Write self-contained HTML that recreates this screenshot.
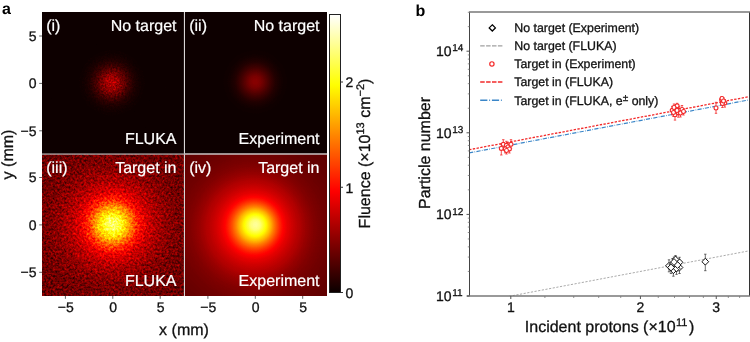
<!DOCTYPE html>
<html><head><meta charset="utf-8"><title>Figure</title>
<style>html,body{margin:0;padding:0;background:#fff;width:750px;height:342px;overflow:hidden;font-family:"Liberation Sans",sans-serif;}svg{display:block;will-change:transform;filter:blur(0.35px);text-rendering:geometricPrecision;}text[fill="#111"]{stroke:#111;stroke-width:0.3px;}text[fill="#fff"]{stroke:#fff;stroke-width:0.2px;}</style>
</head><body>
<svg width="750" height="342" viewBox="0 0 750 342" font-family='"Liberation Sans", sans-serif'><defs><radialGradient id="g_i" gradientUnits="userSpaceOnUse" cx="111.80" cy="82.80" fx="111.80" fy="82.80" r="110.00"><stop offset="0.0000" stop-color="#3f3f3f"/><stop offset="0.0091" stop-color="#3f3f3f"/><stop offset="0.0182" stop-color="#3e3e3e"/><stop offset="0.0273" stop-color="#3d3d3d"/><stop offset="0.0364" stop-color="#3b3b3b"/><stop offset="0.0455" stop-color="#393939"/><stop offset="0.0545" stop-color="#373737"/><stop offset="0.0636" stop-color="#343434"/><stop offset="0.0727" stop-color="#313131"/><stop offset="0.0818" stop-color="#2d2d2d"/><stop offset="0.0909" stop-color="#2a2a2a"/><stop offset="0.1000" stop-color="#272727"/><stop offset="0.1091" stop-color="#232323"/><stop offset="0.1182" stop-color="#202020"/><stop offset="0.1273" stop-color="#1d1d1d"/><stop offset="0.1364" stop-color="#191919"/><stop offset="0.1455" stop-color="#161616"/><stop offset="0.1545" stop-color="#141414"/><stop offset="0.1636" stop-color="#111111"/><stop offset="0.1727" stop-color="#0f0f0f"/><stop offset="0.1818" stop-color="#0d0d0d"/><stop offset="0.1909" stop-color="#0b0b0b"/><stop offset="0.2000" stop-color="#090909"/><stop offset="0.2091" stop-color="#080808"/><stop offset="0.2182" stop-color="#070707"/><stop offset="0.2273" stop-color="#050505"/><stop offset="0.2364" stop-color="#050505"/><stop offset="0.2455" stop-color="#040404"/><stop offset="0.2545" stop-color="#030303"/><stop offset="0.2636" stop-color="#030303"/><stop offset="0.2727" stop-color="#020202"/><stop offset="0.2818" stop-color="#020202"/><stop offset="0.2909" stop-color="#020202"/><stop offset="0.3000" stop-color="#010101"/><stop offset="0.3091" stop-color="#010101"/><stop offset="0.3182" stop-color="#010101"/><stop offset="0.3273" stop-color="#010101"/><stop offset="0.3364" stop-color="#010101"/><stop offset="0.3455" stop-color="#010101"/><stop offset="0.3545" stop-color="#010101"/><stop offset="0.3636" stop-color="#010101"/><stop offset="0.3727" stop-color="#010101"/><stop offset="0.3818" stop-color="#010101"/><stop offset="0.3909" stop-color="#010101"/><stop offset="0.4000" stop-color="#010101"/><stop offset="0.4091" stop-color="#010101"/><stop offset="0.4182" stop-color="#010101"/><stop offset="0.4273" stop-color="#010101"/><stop offset="0.4364" stop-color="#010101"/><stop offset="0.4455" stop-color="#010101"/><stop offset="0.4545" stop-color="#010101"/><stop offset="0.4636" stop-color="#010101"/><stop offset="0.4727" stop-color="#010101"/><stop offset="0.4818" stop-color="#010101"/><stop offset="0.4909" stop-color="#010101"/><stop offset="0.5000" stop-color="#010101"/><stop offset="0.5091" stop-color="#010101"/><stop offset="0.5182" stop-color="#010101"/><stop offset="0.5273" stop-color="#010101"/><stop offset="0.5364" stop-color="#010101"/><stop offset="0.5455" stop-color="#010101"/><stop offset="0.5545" stop-color="#010101"/><stop offset="0.5636" stop-color="#010101"/><stop offset="0.5727" stop-color="#010101"/><stop offset="0.5818" stop-color="#010101"/><stop offset="0.5909" stop-color="#010101"/><stop offset="0.6000" stop-color="#010101"/><stop offset="0.6091" stop-color="#010101"/><stop offset="0.6182" stop-color="#010101"/><stop offset="0.6273" stop-color="#010101"/><stop offset="0.6364" stop-color="#010101"/><stop offset="0.6455" stop-color="#010101"/><stop offset="0.6545" stop-color="#010101"/><stop offset="0.6636" stop-color="#010101"/><stop offset="0.6727" stop-color="#010101"/><stop offset="0.6818" stop-color="#010101"/><stop offset="0.6909" stop-color="#010101"/><stop offset="0.7000" stop-color="#010101"/><stop offset="0.7091" stop-color="#010101"/><stop offset="0.7182" stop-color="#010101"/><stop offset="0.7273" stop-color="#010101"/><stop offset="0.7364" stop-color="#010101"/><stop offset="0.7455" stop-color="#010101"/><stop offset="0.7545" stop-color="#010101"/><stop offset="0.7636" stop-color="#010101"/><stop offset="0.7727" stop-color="#010101"/><stop offset="0.7818" stop-color="#010101"/><stop offset="0.7909" stop-color="#010101"/><stop offset="0.8000" stop-color="#010101"/><stop offset="0.8091" stop-color="#010101"/><stop offset="0.8182" stop-color="#010101"/><stop offset="0.8273" stop-color="#010101"/><stop offset="0.8364" stop-color="#010101"/><stop offset="0.8455" stop-color="#010101"/><stop offset="0.8545" stop-color="#010101"/><stop offset="0.8636" stop-color="#010101"/><stop offset="0.8727" stop-color="#010101"/><stop offset="0.8818" stop-color="#010101"/><stop offset="0.8909" stop-color="#010101"/><stop offset="0.9000" stop-color="#010101"/><stop offset="0.9091" stop-color="#010101"/><stop offset="0.9182" stop-color="#010101"/><stop offset="0.9273" stop-color="#010101"/><stop offset="0.9364" stop-color="#010101"/><stop offset="0.9455" stop-color="#010101"/><stop offset="0.9545" stop-color="#010101"/><stop offset="0.9636" stop-color="#010101"/><stop offset="0.9727" stop-color="#010101"/><stop offset="0.9818" stop-color="#010101"/><stop offset="0.9909" stop-color="#010101"/><stop offset="1.0000" stop-color="#010101"/><stop offset="1.0000" stop-color="#010101"/></radialGradient><filter id="f_i" filterUnits="userSpaceOnUse" x="42.00" y="12.00" width="142.00" height="141.50" color-interpolation-filters="sRGB"><feTurbulence type="fractalNoise" baseFrequency="0.55" numOctaves="2" seed="3" result="t"/><feColorMatrix in="t" type="matrix" values="1 0 0 0 0  1 0 0 0 0  1 0 0 0 0  0 0 0 0 1" result="n"/><feComposite in="SourceGraphic" in2="n" operator="arithmetic" k1="1.500" k2="0.250" k3="0" k4="0"/><feComponentTransfer><feFuncR type="table" tableValues="0.0416 0.0519 0.0622 0.0725 0.0828 0.0931 0.1034 0.1137 0.1240 0.1343 0.1445 0.1548 0.1651 0.1754 0.1857 0.1960 0.2063 0.2166 0.2269 0.2372 0.2475 0.2578 0.2681 0.2784 0.2887 0.2990 0.3093 0.3196 0.3299 0.3402 0.3504 0.3607 0.3710 0.3813 0.3916 0.4019 0.4122 0.4225 0.4328 0.4431 0.4534 0.4637 0.4740 0.4843 0.4946 0.5049 0.5152 0.5255 0.5358 0.5460 0.5563 0.5666 0.5769 0.5872 0.5975 0.6078 0.6181 0.6284 0.6387 0.6490 0.6593 0.6696 0.6799 0.6902 0.7005 0.7108 0.7211 0.7314 0.7416 0.7519 0.7622 0.7725 0.7828 0.7931 0.8034 0.8137 0.8240 0.8343 0.8446 0.8549 0.8652 0.8755 0.8858 0.8961 0.9064 0.9167 0.9270 0.9373 0.9475 0.9578 0.9681 0.9784 0.9887 0.9990 1.0000 1.0000 1.0000 1.0000 1.0000 1.0000 1.0000 1.0000 1.0000 1.0000 1.0000 1.0000 1.0000 1.0000 1.0000 1.0000 1.0000 1.0000 1.0000 1.0000 1.0000 1.0000 1.0000 1.0000 1.0000 1.0000 1.0000 1.0000 1.0000 1.0000 1.0000 1.0000 1.0000 1.0000 1.0000 1.0000 1.0000 1.0000 1.0000 1.0000 1.0000 1.0000 1.0000 1.0000 1.0000 1.0000 1.0000 1.0000 1.0000 1.0000 1.0000 1.0000 1.0000 1.0000 1.0000 1.0000 1.0000 1.0000 1.0000 1.0000 1.0000 1.0000 1.0000 1.0000 1.0000 1.0000 1.0000 1.0000 1.0000 1.0000 1.0000 1.0000 1.0000 1.0000 1.0000 1.0000 1.0000 1.0000 1.0000 1.0000 1.0000 1.0000 1.0000 1.0000 1.0000 1.0000 1.0000 1.0000 1.0000 1.0000 1.0000 1.0000 1.0000 1.0000 1.0000 1.0000 1.0000 1.0000 1.0000 1.0000 1.0000 1.0000 1.0000 1.0000 1.0000 1.0000 1.0000 1.0000 1.0000 1.0000 1.0000 1.0000 1.0000 1.0000 1.0000 1.0000 1.0000 1.0000 1.0000 1.0000 1.0000 1.0000 1.0000 1.0000 1.0000 1.0000 1.0000 1.0000 1.0000 1.0000 1.0000 1.0000 1.0000 1.0000 1.0000 1.0000 1.0000 1.0000 1.0000 1.0000 1.0000 1.0000 1.0000 1.0000 1.0000 1.0000 1.0000 1.0000 1.0000 1.0000 1.0000 1.0000 1.0000 1.0000 1.0000 1.0000 1.0000 1.0000 1.0000 1.0000 1.0000 1.0000"/><feFuncG type="table" tableValues="0.0000 0.0000 0.0000 0.0000 0.0000 0.0000 0.0000 0.0000 0.0000 0.0000 0.0000 0.0000 0.0000 0.0000 0.0000 0.0000 0.0000 0.0000 0.0000 0.0000 0.0000 0.0000 0.0000 0.0000 0.0000 0.0000 0.0000 0.0000 0.0000 0.0000 0.0000 0.0000 0.0000 0.0000 0.0000 0.0000 0.0000 0.0000 0.0000 0.0000 0.0000 0.0000 0.0000 0.0000 0.0000 0.0000 0.0000 0.0000 0.0000 0.0000 0.0000 0.0000 0.0000 0.0000 0.0000 0.0000 0.0000 0.0000 0.0000 0.0000 0.0000 0.0000 0.0000 0.0000 0.0000 0.0000 0.0000 0.0000 0.0000 0.0000 0.0000 0.0000 0.0000 0.0000 0.0000 0.0000 0.0000 0.0000 0.0000 0.0000 0.0000 0.0000 0.0000 0.0000 0.0000 0.0000 0.0000 0.0000 0.0000 0.0000 0.0000 0.0000 0.0000 0.0000 0.0093 0.0196 0.0299 0.0402 0.0505 0.0608 0.0711 0.0814 0.0917 0.1020 0.1123 0.1225 0.1328 0.1431 0.1534 0.1637 0.1740 0.1843 0.1946 0.2049 0.2152 0.2255 0.2358 0.2461 0.2564 0.2667 0.2770 0.2873 0.2975 0.3078 0.3181 0.3284 0.3387 0.3490 0.3593 0.3696 0.3799 0.3902 0.4005 0.4108 0.4211 0.4314 0.4417 0.4520 0.4623 0.4725 0.4828 0.4931 0.5034 0.5137 0.5240 0.5343 0.5446 0.5549 0.5652 0.5755 0.5858 0.5961 0.6064 0.6167 0.6270 0.6373 0.6475 0.6578 0.6681 0.6784 0.6887 0.6990 0.7093 0.7196 0.7299 0.7402 0.7505 0.7608 0.7711 0.7814 0.7917 0.8020 0.8123 0.8225 0.8328 0.8431 0.8534 0.8637 0.8740 0.8843 0.8946 0.9049 0.9152 0.9255 0.9358 0.9461 0.9564 0.9667 0.9770 0.9873 0.9975 1.0000 1.0000 1.0000 1.0000 1.0000 1.0000 1.0000 1.0000 1.0000 1.0000 1.0000 1.0000 1.0000 1.0000 1.0000 1.0000 1.0000 1.0000 1.0000 1.0000 1.0000 1.0000 1.0000 1.0000 1.0000 1.0000 1.0000 1.0000 1.0000 1.0000 1.0000 1.0000 1.0000 1.0000 1.0000 1.0000 1.0000 1.0000 1.0000 1.0000 1.0000 1.0000 1.0000 1.0000 1.0000 1.0000 1.0000 1.0000 1.0000 1.0000 1.0000 1.0000 1.0000 1.0000 1.0000 1.0000 1.0000 1.0000 1.0000 1.0000 1.0000 1.0000 1.0000 1.0000 1.0000"/><feFuncB type="table" tableValues="0.0000 0.0000 0.0000 0.0000 0.0000 0.0000 0.0000 0.0000 0.0000 0.0000 0.0000 0.0000 0.0000 0.0000 0.0000 0.0000 0.0000 0.0000 0.0000 0.0000 0.0000 0.0000 0.0000 0.0000 0.0000 0.0000 0.0000 0.0000 0.0000 0.0000 0.0000 0.0000 0.0000 0.0000 0.0000 0.0000 0.0000 0.0000 0.0000 0.0000 0.0000 0.0000 0.0000 0.0000 0.0000 0.0000 0.0000 0.0000 0.0000 0.0000 0.0000 0.0000 0.0000 0.0000 0.0000 0.0000 0.0000 0.0000 0.0000 0.0000 0.0000 0.0000 0.0000 0.0000 0.0000 0.0000 0.0000 0.0000 0.0000 0.0000 0.0000 0.0000 0.0000 0.0000 0.0000 0.0000 0.0000 0.0000 0.0000 0.0000 0.0000 0.0000 0.0000 0.0000 0.0000 0.0000 0.0000 0.0000 0.0000 0.0000 0.0000 0.0000 0.0000 0.0000 0.0000 0.0000 0.0000 0.0000 0.0000 0.0000 0.0000 0.0000 0.0000 0.0000 0.0000 0.0000 0.0000 0.0000 0.0000 0.0000 0.0000 0.0000 0.0000 0.0000 0.0000 0.0000 0.0000 0.0000 0.0000 0.0000 0.0000 0.0000 0.0000 0.0000 0.0000 0.0000 0.0000 0.0000 0.0000 0.0000 0.0000 0.0000 0.0000 0.0000 0.0000 0.0000 0.0000 0.0000 0.0000 0.0000 0.0000 0.0000 0.0000 0.0000 0.0000 0.0000 0.0000 0.0000 0.0000 0.0000 0.0000 0.0000 0.0000 0.0000 0.0000 0.0000 0.0000 0.0000 0.0000 0.0000 0.0000 0.0000 0.0000 0.0000 0.0000 0.0000 0.0000 0.0000 0.0000 0.0000 0.0000 0.0000 0.0000 0.0000 0.0000 0.0000 0.0000 0.0000 0.0000 0.0000 0.0000 0.0000 0.0000 0.0000 0.0000 0.0000 0.0000 0.0000 0.0000 0.0000 0.0000 0.0118 0.0272 0.0426 0.0581 0.0735 0.0890 0.1044 0.1199 0.1353 0.1507 0.1662 0.1816 0.1971 0.2125 0.2279 0.2434 0.2588 0.2743 0.2897 0.3051 0.3206 0.3360 0.3515 0.3669 0.3824 0.3978 0.4132 0.4287 0.4441 0.4596 0.4750 0.4904 0.5059 0.5213 0.5368 0.5522 0.5676 0.5831 0.5985 0.6140 0.6294 0.6449 0.6603 0.6757 0.6912 0.7066 0.7221 0.7375 0.7529 0.7684 0.7838 0.7993 0.8147 0.8301 0.8456 0.8610 0.8765 0.8919 0.9074 0.9228 0.9382 0.9537 0.9691 0.9846 1.0000"/></feComponentTransfer></filter><radialGradient id="g_ii" gradientUnits="userSpaceOnUse" cx="255.30" cy="81.80" fx="255.30" fy="81.80" r="110.00"><stop offset="0.0000" stop-color="#2f2f2f"/><stop offset="0.0091" stop-color="#2f2f2f"/><stop offset="0.0182" stop-color="#2f2f2f"/><stop offset="0.0273" stop-color="#2e2e2e"/><stop offset="0.0364" stop-color="#2c2c2c"/><stop offset="0.0455" stop-color="#2b2b2b"/><stop offset="0.0545" stop-color="#292929"/><stop offset="0.0636" stop-color="#272727"/><stop offset="0.0727" stop-color="#242424"/><stop offset="0.0818" stop-color="#222222"/><stop offset="0.0909" stop-color="#1f1f1f"/><stop offset="0.1000" stop-color="#1d1d1d"/><stop offset="0.1091" stop-color="#1a1a1a"/><stop offset="0.1182" stop-color="#181818"/><stop offset="0.1273" stop-color="#151515"/><stop offset="0.1364" stop-color="#131313"/><stop offset="0.1455" stop-color="#111111"/><stop offset="0.1545" stop-color="#0f0f0f"/><stop offset="0.1636" stop-color="#0d0d0d"/><stop offset="0.1727" stop-color="#0b0b0b"/><stop offset="0.1818" stop-color="#090909"/><stop offset="0.1909" stop-color="#080808"/><stop offset="0.2000" stop-color="#070707"/><stop offset="0.2091" stop-color="#060606"/><stop offset="0.2182" stop-color="#050505"/><stop offset="0.2273" stop-color="#040404"/><stop offset="0.2364" stop-color="#030303"/><stop offset="0.2455" stop-color="#030303"/><stop offset="0.2545" stop-color="#020202"/><stop offset="0.2636" stop-color="#020202"/><stop offset="0.2727" stop-color="#020202"/><stop offset="0.2818" stop-color="#020202"/><stop offset="0.2909" stop-color="#010101"/><stop offset="0.3000" stop-color="#010101"/><stop offset="0.3091" stop-color="#010101"/><stop offset="0.3182" stop-color="#010101"/><stop offset="0.3273" stop-color="#010101"/><stop offset="0.3364" stop-color="#010101"/><stop offset="0.3455" stop-color="#010101"/><stop offset="0.3545" stop-color="#010101"/><stop offset="0.3636" stop-color="#010101"/><stop offset="0.3727" stop-color="#010101"/><stop offset="0.3818" stop-color="#010101"/><stop offset="0.3909" stop-color="#010101"/><stop offset="0.4000" stop-color="#010101"/><stop offset="0.4091" stop-color="#010101"/><stop offset="0.4182" stop-color="#010101"/><stop offset="0.4273" stop-color="#010101"/><stop offset="0.4364" stop-color="#010101"/><stop offset="0.4455" stop-color="#010101"/><stop offset="0.4545" stop-color="#010101"/><stop offset="0.4636" stop-color="#010101"/><stop offset="0.4727" stop-color="#010101"/><stop offset="0.4818" stop-color="#010101"/><stop offset="0.4909" stop-color="#010101"/><stop offset="0.5000" stop-color="#010101"/><stop offset="0.5091" stop-color="#010101"/><stop offset="0.5182" stop-color="#010101"/><stop offset="0.5273" stop-color="#010101"/><stop offset="0.5364" stop-color="#010101"/><stop offset="0.5455" stop-color="#010101"/><stop offset="0.5545" stop-color="#010101"/><stop offset="0.5636" stop-color="#010101"/><stop offset="0.5727" stop-color="#010101"/><stop offset="0.5818" stop-color="#010101"/><stop offset="0.5909" stop-color="#010101"/><stop offset="0.6000" stop-color="#010101"/><stop offset="0.6091" stop-color="#010101"/><stop offset="0.6182" stop-color="#010101"/><stop offset="0.6273" stop-color="#010101"/><stop offset="0.6364" stop-color="#010101"/><stop offset="0.6455" stop-color="#010101"/><stop offset="0.6545" stop-color="#010101"/><stop offset="0.6636" stop-color="#010101"/><stop offset="0.6727" stop-color="#010101"/><stop offset="0.6818" stop-color="#010101"/><stop offset="0.6909" stop-color="#010101"/><stop offset="0.7000" stop-color="#010101"/><stop offset="0.7091" stop-color="#010101"/><stop offset="0.7182" stop-color="#010101"/><stop offset="0.7273" stop-color="#010101"/><stop offset="0.7364" stop-color="#010101"/><stop offset="0.7455" stop-color="#010101"/><stop offset="0.7545" stop-color="#010101"/><stop offset="0.7636" stop-color="#010101"/><stop offset="0.7727" stop-color="#010101"/><stop offset="0.7818" stop-color="#010101"/><stop offset="0.7909" stop-color="#010101"/><stop offset="0.8000" stop-color="#010101"/><stop offset="0.8091" stop-color="#010101"/><stop offset="0.8182" stop-color="#010101"/><stop offset="0.8273" stop-color="#010101"/><stop offset="0.8364" stop-color="#010101"/><stop offset="0.8455" stop-color="#010101"/><stop offset="0.8545" stop-color="#010101"/><stop offset="0.8636" stop-color="#010101"/><stop offset="0.8727" stop-color="#010101"/><stop offset="0.8818" stop-color="#010101"/><stop offset="0.8909" stop-color="#010101"/><stop offset="0.9000" stop-color="#010101"/><stop offset="0.9091" stop-color="#010101"/><stop offset="0.9182" stop-color="#010101"/><stop offset="0.9273" stop-color="#010101"/><stop offset="0.9364" stop-color="#010101"/><stop offset="0.9455" stop-color="#010101"/><stop offset="0.9545" stop-color="#010101"/><stop offset="0.9636" stop-color="#010101"/><stop offset="0.9727" stop-color="#010101"/><stop offset="0.9818" stop-color="#010101"/><stop offset="0.9909" stop-color="#010101"/><stop offset="1.0000" stop-color="#010101"/><stop offset="1.0000" stop-color="#010101"/></radialGradient><filter id="f_ii" filterUnits="userSpaceOnUse" x="185.00" y="12.00" width="142.00" height="141.50" color-interpolation-filters="sRGB"><feComponentTransfer><feFuncR type="table" tableValues="0.0416 0.0519 0.0622 0.0725 0.0828 0.0931 0.1034 0.1137 0.1240 0.1343 0.1445 0.1548 0.1651 0.1754 0.1857 0.1960 0.2063 0.2166 0.2269 0.2372 0.2475 0.2578 0.2681 0.2784 0.2887 0.2990 0.3093 0.3196 0.3299 0.3402 0.3504 0.3607 0.3710 0.3813 0.3916 0.4019 0.4122 0.4225 0.4328 0.4431 0.4534 0.4637 0.4740 0.4843 0.4946 0.5049 0.5152 0.5255 0.5358 0.5460 0.5563 0.5666 0.5769 0.5872 0.5975 0.6078 0.6181 0.6284 0.6387 0.6490 0.6593 0.6696 0.6799 0.6902 0.7005 0.7108 0.7211 0.7314 0.7416 0.7519 0.7622 0.7725 0.7828 0.7931 0.8034 0.8137 0.8240 0.8343 0.8446 0.8549 0.8652 0.8755 0.8858 0.8961 0.9064 0.9167 0.9270 0.9373 0.9475 0.9578 0.9681 0.9784 0.9887 0.9990 1.0000 1.0000 1.0000 1.0000 1.0000 1.0000 1.0000 1.0000 1.0000 1.0000 1.0000 1.0000 1.0000 1.0000 1.0000 1.0000 1.0000 1.0000 1.0000 1.0000 1.0000 1.0000 1.0000 1.0000 1.0000 1.0000 1.0000 1.0000 1.0000 1.0000 1.0000 1.0000 1.0000 1.0000 1.0000 1.0000 1.0000 1.0000 1.0000 1.0000 1.0000 1.0000 1.0000 1.0000 1.0000 1.0000 1.0000 1.0000 1.0000 1.0000 1.0000 1.0000 1.0000 1.0000 1.0000 1.0000 1.0000 1.0000 1.0000 1.0000 1.0000 1.0000 1.0000 1.0000 1.0000 1.0000 1.0000 1.0000 1.0000 1.0000 1.0000 1.0000 1.0000 1.0000 1.0000 1.0000 1.0000 1.0000 1.0000 1.0000 1.0000 1.0000 1.0000 1.0000 1.0000 1.0000 1.0000 1.0000 1.0000 1.0000 1.0000 1.0000 1.0000 1.0000 1.0000 1.0000 1.0000 1.0000 1.0000 1.0000 1.0000 1.0000 1.0000 1.0000 1.0000 1.0000 1.0000 1.0000 1.0000 1.0000 1.0000 1.0000 1.0000 1.0000 1.0000 1.0000 1.0000 1.0000 1.0000 1.0000 1.0000 1.0000 1.0000 1.0000 1.0000 1.0000 1.0000 1.0000 1.0000 1.0000 1.0000 1.0000 1.0000 1.0000 1.0000 1.0000 1.0000 1.0000 1.0000 1.0000 1.0000 1.0000 1.0000 1.0000 1.0000 1.0000 1.0000 1.0000 1.0000 1.0000 1.0000 1.0000 1.0000 1.0000 1.0000 1.0000 1.0000 1.0000 1.0000 1.0000 1.0000 1.0000"/><feFuncG type="table" tableValues="0.0000 0.0000 0.0000 0.0000 0.0000 0.0000 0.0000 0.0000 0.0000 0.0000 0.0000 0.0000 0.0000 0.0000 0.0000 0.0000 0.0000 0.0000 0.0000 0.0000 0.0000 0.0000 0.0000 0.0000 0.0000 0.0000 0.0000 0.0000 0.0000 0.0000 0.0000 0.0000 0.0000 0.0000 0.0000 0.0000 0.0000 0.0000 0.0000 0.0000 0.0000 0.0000 0.0000 0.0000 0.0000 0.0000 0.0000 0.0000 0.0000 0.0000 0.0000 0.0000 0.0000 0.0000 0.0000 0.0000 0.0000 0.0000 0.0000 0.0000 0.0000 0.0000 0.0000 0.0000 0.0000 0.0000 0.0000 0.0000 0.0000 0.0000 0.0000 0.0000 0.0000 0.0000 0.0000 0.0000 0.0000 0.0000 0.0000 0.0000 0.0000 0.0000 0.0000 0.0000 0.0000 0.0000 0.0000 0.0000 0.0000 0.0000 0.0000 0.0000 0.0000 0.0000 0.0093 0.0196 0.0299 0.0402 0.0505 0.0608 0.0711 0.0814 0.0917 0.1020 0.1123 0.1225 0.1328 0.1431 0.1534 0.1637 0.1740 0.1843 0.1946 0.2049 0.2152 0.2255 0.2358 0.2461 0.2564 0.2667 0.2770 0.2873 0.2975 0.3078 0.3181 0.3284 0.3387 0.3490 0.3593 0.3696 0.3799 0.3902 0.4005 0.4108 0.4211 0.4314 0.4417 0.4520 0.4623 0.4725 0.4828 0.4931 0.5034 0.5137 0.5240 0.5343 0.5446 0.5549 0.5652 0.5755 0.5858 0.5961 0.6064 0.6167 0.6270 0.6373 0.6475 0.6578 0.6681 0.6784 0.6887 0.6990 0.7093 0.7196 0.7299 0.7402 0.7505 0.7608 0.7711 0.7814 0.7917 0.8020 0.8123 0.8225 0.8328 0.8431 0.8534 0.8637 0.8740 0.8843 0.8946 0.9049 0.9152 0.9255 0.9358 0.9461 0.9564 0.9667 0.9770 0.9873 0.9975 1.0000 1.0000 1.0000 1.0000 1.0000 1.0000 1.0000 1.0000 1.0000 1.0000 1.0000 1.0000 1.0000 1.0000 1.0000 1.0000 1.0000 1.0000 1.0000 1.0000 1.0000 1.0000 1.0000 1.0000 1.0000 1.0000 1.0000 1.0000 1.0000 1.0000 1.0000 1.0000 1.0000 1.0000 1.0000 1.0000 1.0000 1.0000 1.0000 1.0000 1.0000 1.0000 1.0000 1.0000 1.0000 1.0000 1.0000 1.0000 1.0000 1.0000 1.0000 1.0000 1.0000 1.0000 1.0000 1.0000 1.0000 1.0000 1.0000 1.0000 1.0000 1.0000 1.0000 1.0000 1.0000"/><feFuncB type="table" tableValues="0.0000 0.0000 0.0000 0.0000 0.0000 0.0000 0.0000 0.0000 0.0000 0.0000 0.0000 0.0000 0.0000 0.0000 0.0000 0.0000 0.0000 0.0000 0.0000 0.0000 0.0000 0.0000 0.0000 0.0000 0.0000 0.0000 0.0000 0.0000 0.0000 0.0000 0.0000 0.0000 0.0000 0.0000 0.0000 0.0000 0.0000 0.0000 0.0000 0.0000 0.0000 0.0000 0.0000 0.0000 0.0000 0.0000 0.0000 0.0000 0.0000 0.0000 0.0000 0.0000 0.0000 0.0000 0.0000 0.0000 0.0000 0.0000 0.0000 0.0000 0.0000 0.0000 0.0000 0.0000 0.0000 0.0000 0.0000 0.0000 0.0000 0.0000 0.0000 0.0000 0.0000 0.0000 0.0000 0.0000 0.0000 0.0000 0.0000 0.0000 0.0000 0.0000 0.0000 0.0000 0.0000 0.0000 0.0000 0.0000 0.0000 0.0000 0.0000 0.0000 0.0000 0.0000 0.0000 0.0000 0.0000 0.0000 0.0000 0.0000 0.0000 0.0000 0.0000 0.0000 0.0000 0.0000 0.0000 0.0000 0.0000 0.0000 0.0000 0.0000 0.0000 0.0000 0.0000 0.0000 0.0000 0.0000 0.0000 0.0000 0.0000 0.0000 0.0000 0.0000 0.0000 0.0000 0.0000 0.0000 0.0000 0.0000 0.0000 0.0000 0.0000 0.0000 0.0000 0.0000 0.0000 0.0000 0.0000 0.0000 0.0000 0.0000 0.0000 0.0000 0.0000 0.0000 0.0000 0.0000 0.0000 0.0000 0.0000 0.0000 0.0000 0.0000 0.0000 0.0000 0.0000 0.0000 0.0000 0.0000 0.0000 0.0000 0.0000 0.0000 0.0000 0.0000 0.0000 0.0000 0.0000 0.0000 0.0000 0.0000 0.0000 0.0000 0.0000 0.0000 0.0000 0.0000 0.0000 0.0000 0.0000 0.0000 0.0000 0.0000 0.0000 0.0000 0.0000 0.0000 0.0000 0.0000 0.0000 0.0118 0.0272 0.0426 0.0581 0.0735 0.0890 0.1044 0.1199 0.1353 0.1507 0.1662 0.1816 0.1971 0.2125 0.2279 0.2434 0.2588 0.2743 0.2897 0.3051 0.3206 0.3360 0.3515 0.3669 0.3824 0.3978 0.4132 0.4287 0.4441 0.4596 0.4750 0.4904 0.5059 0.5213 0.5368 0.5522 0.5676 0.5831 0.5985 0.6140 0.6294 0.6449 0.6603 0.6757 0.6912 0.7066 0.7221 0.7375 0.7529 0.7684 0.7838 0.7993 0.8147 0.8301 0.8456 0.8610 0.8765 0.8919 0.9074 0.9228 0.9382 0.9537 0.9691 0.9846 1.0000"/></feComponentTransfer></filter><radialGradient id="g_iii" gradientUnits="userSpaceOnUse" cx="112.40" cy="224.30" fx="112.40" fy="224.30" r="110.00"><stop offset="0.0000" stop-color="#dedede"/><stop offset="0.0091" stop-color="#dddddd"/><stop offset="0.0182" stop-color="#dbdbdb"/><stop offset="0.0273" stop-color="#d9d9d9"/><stop offset="0.0364" stop-color="#d7d7d7"/><stop offset="0.0455" stop-color="#d4d4d4"/><stop offset="0.0545" stop-color="#d1d1d1"/><stop offset="0.0636" stop-color="#cdcdcd"/><stop offset="0.0727" stop-color="#c8c8c8"/><stop offset="0.0818" stop-color="#c3c3c3"/><stop offset="0.0909" stop-color="#bdbdbd"/><stop offset="0.1000" stop-color="#b8b8b8"/><stop offset="0.1091" stop-color="#b3b3b3"/><stop offset="0.1182" stop-color="#aeaeae"/><stop offset="0.1273" stop-color="#a9a9a9"/><stop offset="0.1364" stop-color="#a4a4a4"/><stop offset="0.1455" stop-color="#9e9e9e"/><stop offset="0.1545" stop-color="#999999"/><stop offset="0.1636" stop-color="#939393"/><stop offset="0.1727" stop-color="#8d8d8d"/><stop offset="0.1818" stop-color="#868686"/><stop offset="0.1909" stop-color="#808080"/><stop offset="0.2000" stop-color="#7a7a7a"/><stop offset="0.2091" stop-color="#757575"/><stop offset="0.2182" stop-color="#707070"/><stop offset="0.2273" stop-color="#6c6c6c"/><stop offset="0.2364" stop-color="#676767"/><stop offset="0.2455" stop-color="#636363"/><stop offset="0.2545" stop-color="#606060"/><stop offset="0.2636" stop-color="#5c5c5c"/><stop offset="0.2727" stop-color="#595959"/><stop offset="0.2818" stop-color="#565656"/><stop offset="0.2909" stop-color="#535353"/><stop offset="0.3000" stop-color="#515151"/><stop offset="0.3091" stop-color="#4e4e4e"/><stop offset="0.3182" stop-color="#4c4c4c"/><stop offset="0.3273" stop-color="#4a4a4a"/><stop offset="0.3364" stop-color="#484848"/><stop offset="0.3455" stop-color="#464646"/><stop offset="0.3545" stop-color="#454545"/><stop offset="0.3636" stop-color="#434343"/><stop offset="0.3727" stop-color="#424242"/><stop offset="0.3818" stop-color="#404040"/><stop offset="0.3909" stop-color="#3f3f3f"/><stop offset="0.4000" stop-color="#3d3d3d"/><stop offset="0.4091" stop-color="#3c3c3c"/><stop offset="0.4182" stop-color="#3b3b3b"/><stop offset="0.4273" stop-color="#3a3a3a"/><stop offset="0.4364" stop-color="#393939"/><stop offset="0.4455" stop-color="#373737"/><stop offset="0.4545" stop-color="#363636"/><stop offset="0.4636" stop-color="#353535"/><stop offset="0.4727" stop-color="#343434"/><stop offset="0.4818" stop-color="#333333"/><stop offset="0.4909" stop-color="#323232"/><stop offset="0.5000" stop-color="#313131"/><stop offset="0.5091" stop-color="#303030"/><stop offset="0.5182" stop-color="#303030"/><stop offset="0.5273" stop-color="#2f2f2f"/><stop offset="0.5364" stop-color="#2e2e2e"/><stop offset="0.5455" stop-color="#2d2d2d"/><stop offset="0.5545" stop-color="#2d2d2d"/><stop offset="0.5636" stop-color="#2c2c2c"/><stop offset="0.5727" stop-color="#2c2c2c"/><stop offset="0.5818" stop-color="#2b2b2b"/><stop offset="0.5909" stop-color="#2b2b2b"/><stop offset="0.6000" stop-color="#2a2a2a"/><stop offset="0.6091" stop-color="#2a2a2a"/><stop offset="0.6182" stop-color="#292929"/><stop offset="0.6273" stop-color="#292929"/><stop offset="0.6364" stop-color="#282828"/><stop offset="0.6455" stop-color="#282828"/><stop offset="0.6545" stop-color="#282828"/><stop offset="0.6636" stop-color="#272727"/><stop offset="0.6727" stop-color="#272727"/><stop offset="0.6818" stop-color="#272727"/><stop offset="0.6909" stop-color="#272727"/><stop offset="0.7000" stop-color="#262626"/><stop offset="0.7091" stop-color="#262626"/><stop offset="0.7182" stop-color="#262626"/><stop offset="0.7273" stop-color="#262626"/><stop offset="0.7364" stop-color="#262626"/><stop offset="0.7455" stop-color="#262626"/><stop offset="0.7545" stop-color="#252525"/><stop offset="0.7636" stop-color="#252525"/><stop offset="0.7727" stop-color="#252525"/><stop offset="0.7818" stop-color="#252525"/><stop offset="0.7909" stop-color="#252525"/><stop offset="0.8000" stop-color="#252525"/><stop offset="0.8091" stop-color="#252525"/><stop offset="0.8182" stop-color="#242424"/><stop offset="0.8273" stop-color="#242424"/><stop offset="0.8364" stop-color="#242424"/><stop offset="0.8455" stop-color="#242424"/><stop offset="0.8545" stop-color="#242424"/><stop offset="0.8636" stop-color="#242424"/><stop offset="0.8727" stop-color="#242424"/><stop offset="0.8818" stop-color="#242424"/><stop offset="0.8909" stop-color="#242424"/><stop offset="0.9000" stop-color="#242424"/><stop offset="0.9091" stop-color="#242424"/><stop offset="0.9182" stop-color="#232323"/><stop offset="0.9273" stop-color="#232323"/><stop offset="0.9364" stop-color="#232323"/><stop offset="0.9455" stop-color="#232323"/><stop offset="0.9545" stop-color="#232323"/><stop offset="0.9636" stop-color="#232323"/><stop offset="0.9727" stop-color="#232323"/><stop offset="0.9818" stop-color="#232323"/><stop offset="0.9909" stop-color="#232323"/><stop offset="1.0000" stop-color="#232323"/><stop offset="1.0000" stop-color="#232323"/></radialGradient><filter id="f_iii" filterUnits="userSpaceOnUse" x="42.00" y="154.50" width="142.00" height="141.50" color-interpolation-filters="sRGB"><feTurbulence type="fractalNoise" baseFrequency="0.45" numOctaves="2" seed="7" result="t"/><feColorMatrix in="t" type="matrix" values="1 0 0 0 0  1 0 0 0 0  1 0 0 0 0  0 0 0 0 1" result="n"/><feComposite in="SourceGraphic" in2="n" operator="arithmetic" k1="0" k2="1" k3="0.360" k4="-0.180"/><feComponentTransfer><feFuncR type="table" tableValues="0.0416 0.0519 0.0622 0.0725 0.0828 0.0931 0.1034 0.1137 0.1240 0.1343 0.1445 0.1548 0.1651 0.1754 0.1857 0.1960 0.2063 0.2166 0.2269 0.2372 0.2475 0.2578 0.2681 0.2784 0.2887 0.2990 0.3093 0.3196 0.3299 0.3402 0.3504 0.3607 0.3710 0.3813 0.3916 0.4019 0.4122 0.4225 0.4328 0.4431 0.4534 0.4637 0.4740 0.4843 0.4946 0.5049 0.5152 0.5255 0.5358 0.5460 0.5563 0.5666 0.5769 0.5872 0.5975 0.6078 0.6181 0.6284 0.6387 0.6490 0.6593 0.6696 0.6799 0.6902 0.7005 0.7108 0.7211 0.7314 0.7416 0.7519 0.7622 0.7725 0.7828 0.7931 0.8034 0.8137 0.8240 0.8343 0.8446 0.8549 0.8652 0.8755 0.8858 0.8961 0.9064 0.9167 0.9270 0.9373 0.9475 0.9578 0.9681 0.9784 0.9887 0.9990 1.0000 1.0000 1.0000 1.0000 1.0000 1.0000 1.0000 1.0000 1.0000 1.0000 1.0000 1.0000 1.0000 1.0000 1.0000 1.0000 1.0000 1.0000 1.0000 1.0000 1.0000 1.0000 1.0000 1.0000 1.0000 1.0000 1.0000 1.0000 1.0000 1.0000 1.0000 1.0000 1.0000 1.0000 1.0000 1.0000 1.0000 1.0000 1.0000 1.0000 1.0000 1.0000 1.0000 1.0000 1.0000 1.0000 1.0000 1.0000 1.0000 1.0000 1.0000 1.0000 1.0000 1.0000 1.0000 1.0000 1.0000 1.0000 1.0000 1.0000 1.0000 1.0000 1.0000 1.0000 1.0000 1.0000 1.0000 1.0000 1.0000 1.0000 1.0000 1.0000 1.0000 1.0000 1.0000 1.0000 1.0000 1.0000 1.0000 1.0000 1.0000 1.0000 1.0000 1.0000 1.0000 1.0000 1.0000 1.0000 1.0000 1.0000 1.0000 1.0000 1.0000 1.0000 1.0000 1.0000 1.0000 1.0000 1.0000 1.0000 1.0000 1.0000 1.0000 1.0000 1.0000 1.0000 1.0000 1.0000 1.0000 1.0000 1.0000 1.0000 1.0000 1.0000 1.0000 1.0000 1.0000 1.0000 1.0000 1.0000 1.0000 1.0000 1.0000 1.0000 1.0000 1.0000 1.0000 1.0000 1.0000 1.0000 1.0000 1.0000 1.0000 1.0000 1.0000 1.0000 1.0000 1.0000 1.0000 1.0000 1.0000 1.0000 1.0000 1.0000 1.0000 1.0000 1.0000 1.0000 1.0000 1.0000 1.0000 1.0000 1.0000 1.0000 1.0000 1.0000 1.0000 1.0000 1.0000 1.0000 1.0000 1.0000"/><feFuncG type="table" tableValues="0.0000 0.0000 0.0000 0.0000 0.0000 0.0000 0.0000 0.0000 0.0000 0.0000 0.0000 0.0000 0.0000 0.0000 0.0000 0.0000 0.0000 0.0000 0.0000 0.0000 0.0000 0.0000 0.0000 0.0000 0.0000 0.0000 0.0000 0.0000 0.0000 0.0000 0.0000 0.0000 0.0000 0.0000 0.0000 0.0000 0.0000 0.0000 0.0000 0.0000 0.0000 0.0000 0.0000 0.0000 0.0000 0.0000 0.0000 0.0000 0.0000 0.0000 0.0000 0.0000 0.0000 0.0000 0.0000 0.0000 0.0000 0.0000 0.0000 0.0000 0.0000 0.0000 0.0000 0.0000 0.0000 0.0000 0.0000 0.0000 0.0000 0.0000 0.0000 0.0000 0.0000 0.0000 0.0000 0.0000 0.0000 0.0000 0.0000 0.0000 0.0000 0.0000 0.0000 0.0000 0.0000 0.0000 0.0000 0.0000 0.0000 0.0000 0.0000 0.0000 0.0000 0.0000 0.0093 0.0196 0.0299 0.0402 0.0505 0.0608 0.0711 0.0814 0.0917 0.1020 0.1123 0.1225 0.1328 0.1431 0.1534 0.1637 0.1740 0.1843 0.1946 0.2049 0.2152 0.2255 0.2358 0.2461 0.2564 0.2667 0.2770 0.2873 0.2975 0.3078 0.3181 0.3284 0.3387 0.3490 0.3593 0.3696 0.3799 0.3902 0.4005 0.4108 0.4211 0.4314 0.4417 0.4520 0.4623 0.4725 0.4828 0.4931 0.5034 0.5137 0.5240 0.5343 0.5446 0.5549 0.5652 0.5755 0.5858 0.5961 0.6064 0.6167 0.6270 0.6373 0.6475 0.6578 0.6681 0.6784 0.6887 0.6990 0.7093 0.7196 0.7299 0.7402 0.7505 0.7608 0.7711 0.7814 0.7917 0.8020 0.8123 0.8225 0.8328 0.8431 0.8534 0.8637 0.8740 0.8843 0.8946 0.9049 0.9152 0.9255 0.9358 0.9461 0.9564 0.9667 0.9770 0.9873 0.9975 1.0000 1.0000 1.0000 1.0000 1.0000 1.0000 1.0000 1.0000 1.0000 1.0000 1.0000 1.0000 1.0000 1.0000 1.0000 1.0000 1.0000 1.0000 1.0000 1.0000 1.0000 1.0000 1.0000 1.0000 1.0000 1.0000 1.0000 1.0000 1.0000 1.0000 1.0000 1.0000 1.0000 1.0000 1.0000 1.0000 1.0000 1.0000 1.0000 1.0000 1.0000 1.0000 1.0000 1.0000 1.0000 1.0000 1.0000 1.0000 1.0000 1.0000 1.0000 1.0000 1.0000 1.0000 1.0000 1.0000 1.0000 1.0000 1.0000 1.0000 1.0000 1.0000 1.0000 1.0000 1.0000"/><feFuncB type="table" tableValues="0.0000 0.0000 0.0000 0.0000 0.0000 0.0000 0.0000 0.0000 0.0000 0.0000 0.0000 0.0000 0.0000 0.0000 0.0000 0.0000 0.0000 0.0000 0.0000 0.0000 0.0000 0.0000 0.0000 0.0000 0.0000 0.0000 0.0000 0.0000 0.0000 0.0000 0.0000 0.0000 0.0000 0.0000 0.0000 0.0000 0.0000 0.0000 0.0000 0.0000 0.0000 0.0000 0.0000 0.0000 0.0000 0.0000 0.0000 0.0000 0.0000 0.0000 0.0000 0.0000 0.0000 0.0000 0.0000 0.0000 0.0000 0.0000 0.0000 0.0000 0.0000 0.0000 0.0000 0.0000 0.0000 0.0000 0.0000 0.0000 0.0000 0.0000 0.0000 0.0000 0.0000 0.0000 0.0000 0.0000 0.0000 0.0000 0.0000 0.0000 0.0000 0.0000 0.0000 0.0000 0.0000 0.0000 0.0000 0.0000 0.0000 0.0000 0.0000 0.0000 0.0000 0.0000 0.0000 0.0000 0.0000 0.0000 0.0000 0.0000 0.0000 0.0000 0.0000 0.0000 0.0000 0.0000 0.0000 0.0000 0.0000 0.0000 0.0000 0.0000 0.0000 0.0000 0.0000 0.0000 0.0000 0.0000 0.0000 0.0000 0.0000 0.0000 0.0000 0.0000 0.0000 0.0000 0.0000 0.0000 0.0000 0.0000 0.0000 0.0000 0.0000 0.0000 0.0000 0.0000 0.0000 0.0000 0.0000 0.0000 0.0000 0.0000 0.0000 0.0000 0.0000 0.0000 0.0000 0.0000 0.0000 0.0000 0.0000 0.0000 0.0000 0.0000 0.0000 0.0000 0.0000 0.0000 0.0000 0.0000 0.0000 0.0000 0.0000 0.0000 0.0000 0.0000 0.0000 0.0000 0.0000 0.0000 0.0000 0.0000 0.0000 0.0000 0.0000 0.0000 0.0000 0.0000 0.0000 0.0000 0.0000 0.0000 0.0000 0.0000 0.0000 0.0000 0.0000 0.0000 0.0000 0.0000 0.0000 0.0118 0.0272 0.0426 0.0581 0.0735 0.0890 0.1044 0.1199 0.1353 0.1507 0.1662 0.1816 0.1971 0.2125 0.2279 0.2434 0.2588 0.2743 0.2897 0.3051 0.3206 0.3360 0.3515 0.3669 0.3824 0.3978 0.4132 0.4287 0.4441 0.4596 0.4750 0.4904 0.5059 0.5213 0.5368 0.5522 0.5676 0.5831 0.5985 0.6140 0.6294 0.6449 0.6603 0.6757 0.6912 0.7066 0.7221 0.7375 0.7529 0.7684 0.7838 0.7993 0.8147 0.8301 0.8456 0.8610 0.8765 0.8919 0.9074 0.9228 0.9382 0.9537 0.9691 0.9846 1.0000"/></feComponentTransfer></filter><radialGradient id="g_iv" gradientUnits="userSpaceOnUse" cx="249.70" cy="230.60" fx="255.70" fy="224.60" r="110.00"><stop offset="0.0000" stop-color="#e6e6e6"/><stop offset="0.0091" stop-color="#e5e5e5"/><stop offset="0.0182" stop-color="#e4e4e4"/><stop offset="0.0273" stop-color="#e1e1e1"/><stop offset="0.0364" stop-color="#dfdfdf"/><stop offset="0.0455" stop-color="#dcdcdc"/><stop offset="0.0545" stop-color="#d7d7d7"/><stop offset="0.0636" stop-color="#d1d1d1"/><stop offset="0.0727" stop-color="#cccccc"/><stop offset="0.0818" stop-color="#c7c7c7"/><stop offset="0.0909" stop-color="#c2c2c2"/><stop offset="0.1000" stop-color="#bdbdbd"/><stop offset="0.1091" stop-color="#b8b8b8"/><stop offset="0.1182" stop-color="#b2b2b2"/><stop offset="0.1273" stop-color="#acacac"/><stop offset="0.1364" stop-color="#a7a7a7"/><stop offset="0.1455" stop-color="#a1a1a1"/><stop offset="0.1545" stop-color="#9b9b9b"/><stop offset="0.1636" stop-color="#949494"/><stop offset="0.1727" stop-color="#8e8e8e"/><stop offset="0.1818" stop-color="#888888"/><stop offset="0.1909" stop-color="#838383"/><stop offset="0.2000" stop-color="#7d7d7d"/><stop offset="0.2091" stop-color="#787878"/><stop offset="0.2182" stop-color="#737373"/><stop offset="0.2273" stop-color="#6e6e6e"/><stop offset="0.2364" stop-color="#6a6a6a"/><stop offset="0.2455" stop-color="#656565"/><stop offset="0.2545" stop-color="#626262"/><stop offset="0.2636" stop-color="#5e5e5e"/><stop offset="0.2727" stop-color="#5c5c5c"/><stop offset="0.2818" stop-color="#595959"/><stop offset="0.2909" stop-color="#575757"/><stop offset="0.3000" stop-color="#545454"/><stop offset="0.3091" stop-color="#525252"/><stop offset="0.3182" stop-color="#515151"/><stop offset="0.3273" stop-color="#4f4f4f"/><stop offset="0.3364" stop-color="#4d4d4d"/><stop offset="0.3455" stop-color="#4b4b4b"/><stop offset="0.3545" stop-color="#4a4a4a"/><stop offset="0.3636" stop-color="#484848"/><stop offset="0.3727" stop-color="#474747"/><stop offset="0.3818" stop-color="#454545"/><stop offset="0.3909" stop-color="#444444"/><stop offset="0.4000" stop-color="#424242"/><stop offset="0.4091" stop-color="#414141"/><stop offset="0.4182" stop-color="#404040"/><stop offset="0.4273" stop-color="#3f3f3f"/><stop offset="0.4364" stop-color="#3d3d3d"/><stop offset="0.4455" stop-color="#3c3c3c"/><stop offset="0.4545" stop-color="#3a3a3a"/><stop offset="0.4636" stop-color="#393939"/><stop offset="0.4727" stop-color="#383838"/><stop offset="0.4818" stop-color="#363636"/><stop offset="0.4909" stop-color="#353535"/><stop offset="0.5000" stop-color="#343434"/><stop offset="0.5091" stop-color="#333333"/><stop offset="0.5182" stop-color="#323232"/><stop offset="0.5273" stop-color="#313131"/><stop offset="0.5364" stop-color="#303030"/><stop offset="0.5455" stop-color="#2f2f2f"/><stop offset="0.5545" stop-color="#2e2e2e"/><stop offset="0.5636" stop-color="#2d2d2d"/><stop offset="0.5727" stop-color="#2d2d2d"/><stop offset="0.5818" stop-color="#2c2c2c"/><stop offset="0.5909" stop-color="#2b2b2b"/><stop offset="0.6000" stop-color="#2b2b2b"/><stop offset="0.6091" stop-color="#2a2a2a"/><stop offset="0.6182" stop-color="#2a2a2a"/><stop offset="0.6273" stop-color="#292929"/><stop offset="0.6364" stop-color="#292929"/><stop offset="0.6455" stop-color="#282828"/><stop offset="0.6545" stop-color="#282828"/><stop offset="0.6636" stop-color="#272727"/><stop offset="0.6727" stop-color="#272727"/><stop offset="0.6818" stop-color="#272727"/><stop offset="0.6909" stop-color="#262626"/><stop offset="0.7000" stop-color="#262626"/><stop offset="0.7091" stop-color="#262626"/><stop offset="0.7182" stop-color="#252525"/><stop offset="0.7273" stop-color="#252525"/><stop offset="0.7364" stop-color="#252525"/><stop offset="0.7455" stop-color="#242424"/><stop offset="0.7545" stop-color="#242424"/><stop offset="0.7636" stop-color="#242424"/><stop offset="0.7727" stop-color="#242424"/><stop offset="0.7818" stop-color="#232323"/><stop offset="0.7909" stop-color="#232323"/><stop offset="0.8000" stop-color="#232323"/><stop offset="0.8091" stop-color="#232323"/><stop offset="0.8182" stop-color="#232323"/><stop offset="0.8273" stop-color="#222222"/><stop offset="0.8364" stop-color="#222222"/><stop offset="0.8455" stop-color="#222222"/><stop offset="0.8545" stop-color="#222222"/><stop offset="0.8636" stop-color="#222222"/><stop offset="0.8727" stop-color="#212121"/><stop offset="0.8818" stop-color="#212121"/><stop offset="0.8909" stop-color="#212121"/><stop offset="0.9000" stop-color="#212121"/><stop offset="0.9091" stop-color="#212121"/><stop offset="0.9182" stop-color="#212121"/><stop offset="0.9273" stop-color="#202020"/><stop offset="0.9364" stop-color="#202020"/><stop offset="0.9455" stop-color="#202020"/><stop offset="0.9545" stop-color="#202020"/><stop offset="0.9636" stop-color="#202020"/><stop offset="0.9727" stop-color="#202020"/><stop offset="0.9818" stop-color="#202020"/><stop offset="0.9909" stop-color="#202020"/><stop offset="1.0000" stop-color="#202020"/><stop offset="1.0000" stop-color="#202020"/></radialGradient><filter id="f_iv" filterUnits="userSpaceOnUse" x="185.00" y="154.50" width="142.00" height="141.50" color-interpolation-filters="sRGB"><feComponentTransfer><feFuncR type="table" tableValues="0.0416 0.0519 0.0622 0.0725 0.0828 0.0931 0.1034 0.1137 0.1240 0.1343 0.1445 0.1548 0.1651 0.1754 0.1857 0.1960 0.2063 0.2166 0.2269 0.2372 0.2475 0.2578 0.2681 0.2784 0.2887 0.2990 0.3093 0.3196 0.3299 0.3402 0.3504 0.3607 0.3710 0.3813 0.3916 0.4019 0.4122 0.4225 0.4328 0.4431 0.4534 0.4637 0.4740 0.4843 0.4946 0.5049 0.5152 0.5255 0.5358 0.5460 0.5563 0.5666 0.5769 0.5872 0.5975 0.6078 0.6181 0.6284 0.6387 0.6490 0.6593 0.6696 0.6799 0.6902 0.7005 0.7108 0.7211 0.7314 0.7416 0.7519 0.7622 0.7725 0.7828 0.7931 0.8034 0.8137 0.8240 0.8343 0.8446 0.8549 0.8652 0.8755 0.8858 0.8961 0.9064 0.9167 0.9270 0.9373 0.9475 0.9578 0.9681 0.9784 0.9887 0.9990 1.0000 1.0000 1.0000 1.0000 1.0000 1.0000 1.0000 1.0000 1.0000 1.0000 1.0000 1.0000 1.0000 1.0000 1.0000 1.0000 1.0000 1.0000 1.0000 1.0000 1.0000 1.0000 1.0000 1.0000 1.0000 1.0000 1.0000 1.0000 1.0000 1.0000 1.0000 1.0000 1.0000 1.0000 1.0000 1.0000 1.0000 1.0000 1.0000 1.0000 1.0000 1.0000 1.0000 1.0000 1.0000 1.0000 1.0000 1.0000 1.0000 1.0000 1.0000 1.0000 1.0000 1.0000 1.0000 1.0000 1.0000 1.0000 1.0000 1.0000 1.0000 1.0000 1.0000 1.0000 1.0000 1.0000 1.0000 1.0000 1.0000 1.0000 1.0000 1.0000 1.0000 1.0000 1.0000 1.0000 1.0000 1.0000 1.0000 1.0000 1.0000 1.0000 1.0000 1.0000 1.0000 1.0000 1.0000 1.0000 1.0000 1.0000 1.0000 1.0000 1.0000 1.0000 1.0000 1.0000 1.0000 1.0000 1.0000 1.0000 1.0000 1.0000 1.0000 1.0000 1.0000 1.0000 1.0000 1.0000 1.0000 1.0000 1.0000 1.0000 1.0000 1.0000 1.0000 1.0000 1.0000 1.0000 1.0000 1.0000 1.0000 1.0000 1.0000 1.0000 1.0000 1.0000 1.0000 1.0000 1.0000 1.0000 1.0000 1.0000 1.0000 1.0000 1.0000 1.0000 1.0000 1.0000 1.0000 1.0000 1.0000 1.0000 1.0000 1.0000 1.0000 1.0000 1.0000 1.0000 1.0000 1.0000 1.0000 1.0000 1.0000 1.0000 1.0000 1.0000 1.0000 1.0000 1.0000 1.0000 1.0000 1.0000"/><feFuncG type="table" tableValues="0.0000 0.0000 0.0000 0.0000 0.0000 0.0000 0.0000 0.0000 0.0000 0.0000 0.0000 0.0000 0.0000 0.0000 0.0000 0.0000 0.0000 0.0000 0.0000 0.0000 0.0000 0.0000 0.0000 0.0000 0.0000 0.0000 0.0000 0.0000 0.0000 0.0000 0.0000 0.0000 0.0000 0.0000 0.0000 0.0000 0.0000 0.0000 0.0000 0.0000 0.0000 0.0000 0.0000 0.0000 0.0000 0.0000 0.0000 0.0000 0.0000 0.0000 0.0000 0.0000 0.0000 0.0000 0.0000 0.0000 0.0000 0.0000 0.0000 0.0000 0.0000 0.0000 0.0000 0.0000 0.0000 0.0000 0.0000 0.0000 0.0000 0.0000 0.0000 0.0000 0.0000 0.0000 0.0000 0.0000 0.0000 0.0000 0.0000 0.0000 0.0000 0.0000 0.0000 0.0000 0.0000 0.0000 0.0000 0.0000 0.0000 0.0000 0.0000 0.0000 0.0000 0.0000 0.0093 0.0196 0.0299 0.0402 0.0505 0.0608 0.0711 0.0814 0.0917 0.1020 0.1123 0.1225 0.1328 0.1431 0.1534 0.1637 0.1740 0.1843 0.1946 0.2049 0.2152 0.2255 0.2358 0.2461 0.2564 0.2667 0.2770 0.2873 0.2975 0.3078 0.3181 0.3284 0.3387 0.3490 0.3593 0.3696 0.3799 0.3902 0.4005 0.4108 0.4211 0.4314 0.4417 0.4520 0.4623 0.4725 0.4828 0.4931 0.5034 0.5137 0.5240 0.5343 0.5446 0.5549 0.5652 0.5755 0.5858 0.5961 0.6064 0.6167 0.6270 0.6373 0.6475 0.6578 0.6681 0.6784 0.6887 0.6990 0.7093 0.7196 0.7299 0.7402 0.7505 0.7608 0.7711 0.7814 0.7917 0.8020 0.8123 0.8225 0.8328 0.8431 0.8534 0.8637 0.8740 0.8843 0.8946 0.9049 0.9152 0.9255 0.9358 0.9461 0.9564 0.9667 0.9770 0.9873 0.9975 1.0000 1.0000 1.0000 1.0000 1.0000 1.0000 1.0000 1.0000 1.0000 1.0000 1.0000 1.0000 1.0000 1.0000 1.0000 1.0000 1.0000 1.0000 1.0000 1.0000 1.0000 1.0000 1.0000 1.0000 1.0000 1.0000 1.0000 1.0000 1.0000 1.0000 1.0000 1.0000 1.0000 1.0000 1.0000 1.0000 1.0000 1.0000 1.0000 1.0000 1.0000 1.0000 1.0000 1.0000 1.0000 1.0000 1.0000 1.0000 1.0000 1.0000 1.0000 1.0000 1.0000 1.0000 1.0000 1.0000 1.0000 1.0000 1.0000 1.0000 1.0000 1.0000 1.0000 1.0000 1.0000"/><feFuncB type="table" tableValues="0.0000 0.0000 0.0000 0.0000 0.0000 0.0000 0.0000 0.0000 0.0000 0.0000 0.0000 0.0000 0.0000 0.0000 0.0000 0.0000 0.0000 0.0000 0.0000 0.0000 0.0000 0.0000 0.0000 0.0000 0.0000 0.0000 0.0000 0.0000 0.0000 0.0000 0.0000 0.0000 0.0000 0.0000 0.0000 0.0000 0.0000 0.0000 0.0000 0.0000 0.0000 0.0000 0.0000 0.0000 0.0000 0.0000 0.0000 0.0000 0.0000 0.0000 0.0000 0.0000 0.0000 0.0000 0.0000 0.0000 0.0000 0.0000 0.0000 0.0000 0.0000 0.0000 0.0000 0.0000 0.0000 0.0000 0.0000 0.0000 0.0000 0.0000 0.0000 0.0000 0.0000 0.0000 0.0000 0.0000 0.0000 0.0000 0.0000 0.0000 0.0000 0.0000 0.0000 0.0000 0.0000 0.0000 0.0000 0.0000 0.0000 0.0000 0.0000 0.0000 0.0000 0.0000 0.0000 0.0000 0.0000 0.0000 0.0000 0.0000 0.0000 0.0000 0.0000 0.0000 0.0000 0.0000 0.0000 0.0000 0.0000 0.0000 0.0000 0.0000 0.0000 0.0000 0.0000 0.0000 0.0000 0.0000 0.0000 0.0000 0.0000 0.0000 0.0000 0.0000 0.0000 0.0000 0.0000 0.0000 0.0000 0.0000 0.0000 0.0000 0.0000 0.0000 0.0000 0.0000 0.0000 0.0000 0.0000 0.0000 0.0000 0.0000 0.0000 0.0000 0.0000 0.0000 0.0000 0.0000 0.0000 0.0000 0.0000 0.0000 0.0000 0.0000 0.0000 0.0000 0.0000 0.0000 0.0000 0.0000 0.0000 0.0000 0.0000 0.0000 0.0000 0.0000 0.0000 0.0000 0.0000 0.0000 0.0000 0.0000 0.0000 0.0000 0.0000 0.0000 0.0000 0.0000 0.0000 0.0000 0.0000 0.0000 0.0000 0.0000 0.0000 0.0000 0.0000 0.0000 0.0000 0.0000 0.0000 0.0118 0.0272 0.0426 0.0581 0.0735 0.0890 0.1044 0.1199 0.1353 0.1507 0.1662 0.1816 0.1971 0.2125 0.2279 0.2434 0.2588 0.2743 0.2897 0.3051 0.3206 0.3360 0.3515 0.3669 0.3824 0.3978 0.4132 0.4287 0.4441 0.4596 0.4750 0.4904 0.5059 0.5213 0.5368 0.5522 0.5676 0.5831 0.5985 0.6140 0.6294 0.6449 0.6603 0.6757 0.6912 0.7066 0.7221 0.7375 0.7529 0.7684 0.7838 0.7993 0.8147 0.8301 0.8456 0.8610 0.8765 0.8919 0.9074 0.9228 0.9382 0.9537 0.9691 0.9846 1.0000"/></feComponentTransfer></filter><linearGradient id="cbar" x1="0" y1="1" x2="0" y2="0"><stop offset="0.00" stop-color="#0b0000"/><stop offset="0.01" stop-color="#110000"/><stop offset="0.02" stop-color="#180000"/><stop offset="0.03" stop-color="#1f0000"/><stop offset="0.04" stop-color="#250000"/><stop offset="0.05" stop-color="#2c0000"/><stop offset="0.06" stop-color="#330000"/><stop offset="0.07" stop-color="#390000"/><stop offset="0.08" stop-color="#400000"/><stop offset="0.09" stop-color="#470000"/><stop offset="0.10" stop-color="#4e0000"/><stop offset="0.11" stop-color="#540000"/><stop offset="0.12" stop-color="#5b0000"/><stop offset="0.13" stop-color="#620000"/><stop offset="0.14" stop-color="#680000"/><stop offset="0.15" stop-color="#6f0000"/><stop offset="0.16" stop-color="#760000"/><stop offset="0.17" stop-color="#7c0000"/><stop offset="0.18" stop-color="#830000"/><stop offset="0.19" stop-color="#8a0000"/><stop offset="0.20" stop-color="#900000"/><stop offset="0.21" stop-color="#970000"/><stop offset="0.22" stop-color="#9e0000"/><stop offset="0.23" stop-color="#a50000"/><stop offset="0.24" stop-color="#ab0000"/><stop offset="0.25" stop-color="#b20000"/><stop offset="0.26" stop-color="#b90000"/><stop offset="0.27" stop-color="#bf0000"/><stop offset="0.28" stop-color="#c60000"/><stop offset="0.29" stop-color="#cd0000"/><stop offset="0.30" stop-color="#d30000"/><stop offset="0.31" stop-color="#da0000"/><stop offset="0.32" stop-color="#e10000"/><stop offset="0.33" stop-color="#e80000"/><stop offset="0.34" stop-color="#ee0000"/><stop offset="0.35" stop-color="#f50000"/><stop offset="0.36" stop-color="#fc0000"/><stop offset="0.37" stop-color="#ff0300"/><stop offset="0.38" stop-color="#ff0a00"/><stop offset="0.39" stop-color="#ff1100"/><stop offset="0.40" stop-color="#ff1700"/><stop offset="0.41" stop-color="#ff1e00"/><stop offset="0.42" stop-color="#ff2500"/><stop offset="0.43" stop-color="#ff2b00"/><stop offset="0.44" stop-color="#ff3200"/><stop offset="0.45" stop-color="#ff3900"/><stop offset="0.46" stop-color="#ff4000"/><stop offset="0.47" stop-color="#ff4600"/><stop offset="0.48" stop-color="#ff4d00"/><stop offset="0.49" stop-color="#ff5400"/><stop offset="0.50" stop-color="#ff5a00"/><stop offset="0.51" stop-color="#ff6100"/><stop offset="0.52" stop-color="#ff6800"/><stop offset="0.53" stop-color="#ff6e00"/><stop offset="0.54" stop-color="#ff7500"/><stop offset="0.55" stop-color="#ff7c00"/><stop offset="0.56" stop-color="#ff8200"/><stop offset="0.57" stop-color="#ff8900"/><stop offset="0.58" stop-color="#ff9000"/><stop offset="0.59" stop-color="#ff9700"/><stop offset="0.60" stop-color="#ff9d00"/><stop offset="0.61" stop-color="#ffa400"/><stop offset="0.62" stop-color="#ffab00"/><stop offset="0.63" stop-color="#ffb100"/><stop offset="0.64" stop-color="#ffb800"/><stop offset="0.65" stop-color="#ffbf00"/><stop offset="0.66" stop-color="#ffc500"/><stop offset="0.67" stop-color="#ffcc00"/><stop offset="0.68" stop-color="#ffd300"/><stop offset="0.69" stop-color="#ffd900"/><stop offset="0.70" stop-color="#ffe000"/><stop offset="0.71" stop-color="#ffe700"/><stop offset="0.72" stop-color="#ffee00"/><stop offset="0.73" stop-color="#fff400"/><stop offset="0.74" stop-color="#fffb00"/><stop offset="0.75" stop-color="#ffff04"/><stop offset="0.76" stop-color="#ffff0e"/><stop offset="0.77" stop-color="#ffff18"/><stop offset="0.78" stop-color="#ffff22"/><stop offset="0.79" stop-color="#ffff2c"/><stop offset="0.80" stop-color="#ffff36"/><stop offset="0.81" stop-color="#ffff40"/><stop offset="0.82" stop-color="#ffff4a"/><stop offset="0.83" stop-color="#ffff54"/><stop offset="0.84" stop-color="#ffff5e"/><stop offset="0.85" stop-color="#ffff68"/><stop offset="0.86" stop-color="#ffff72"/><stop offset="0.87" stop-color="#ffff7c"/><stop offset="0.88" stop-color="#ffff87"/><stop offset="0.89" stop-color="#ffff91"/><stop offset="0.90" stop-color="#ffff9b"/><stop offset="0.91" stop-color="#ffffa5"/><stop offset="0.92" stop-color="#ffffaf"/><stop offset="0.93" stop-color="#ffffb9"/><stop offset="0.94" stop-color="#ffffc3"/><stop offset="0.95" stop-color="#ffffcd"/><stop offset="0.96" stop-color="#ffffd7"/><stop offset="0.97" stop-color="#ffffe1"/><stop offset="0.98" stop-color="#ffffeb"/><stop offset="0.99" stop-color="#fffff5"/><stop offset="1.00" stop-color="#ffffff"/></linearGradient><clipPath id="clipb"><rect x="469.5" y="12.0" width="280.0" height="284.0"/></clipPath></defs><rect x="42.00" y="12.00" width="142.00" height="141.50" fill="url(#g_i)" filter="url(#f_i)"/>
<rect x="185.00" y="12.00" width="142.00" height="141.50" fill="url(#g_ii)" filter="url(#f_ii)"/>
<rect x="42.00" y="154.50" width="142.00" height="141.50" fill="url(#g_iii)" filter="url(#f_iii)"/>
<rect x="185.00" y="154.50" width="142.00" height="141.50" fill="url(#g_iv)" filter="url(#f_iv)"/>
<line x1="184.4" y1="12" x2="184.4" y2="296" stroke="#d4d0d0" stroke-width="1"/>
<line x1="42" y1="154" x2="327" y2="154" stroke="#b0a4a4" stroke-width="1"/>
<text x="46.20" y="30.50" font-size="16" fill="#fff" text-anchor="start">(i)</text>
<text x="176.50" y="30.50" font-size="16" fill="#fff" text-anchor="end">No target</text>
<text x="176.50" y="143.50" font-size="16" fill="#fff" text-anchor="end">FLUKA</text>
<text x="189.20" y="30.50" font-size="16" fill="#fff" text-anchor="start">(ii)</text>
<text x="319.50" y="30.50" font-size="16" fill="#fff" text-anchor="end">No target</text>
<text x="319.50" y="143.50" font-size="16" fill="#fff" text-anchor="end">Experiment</text>
<text x="46.20" y="173.00" font-size="16" fill="#fff" text-anchor="start">(iii)</text>
<text x="176.50" y="173.00" font-size="16" fill="#fff" text-anchor="end">Target in</text>
<text x="176.50" y="286.00" font-size="16" fill="#fff" text-anchor="end">FLUKA</text>
<text x="189.20" y="173.00" font-size="16" fill="#fff" text-anchor="start">(iv)</text>
<text x="319.50" y="173.00" font-size="16" fill="#fff" text-anchor="end">Target in</text>
<text x="319.50" y="286.00" font-size="16" fill="#fff" text-anchor="end">Experiment</text>
<text x="65.80" y="311.9" font-size="14" fill="#111" text-anchor="middle">−5</text>
<text x="113.20" y="311.9" font-size="14" fill="#111" text-anchor="middle">0</text>
<text x="160.60" y="311.9" font-size="14" fill="#111" text-anchor="middle">5</text>
<text x="208.30" y="311.9" font-size="14" fill="#111" text-anchor="middle">−5</text>
<text x="255.70" y="311.9" font-size="14" fill="#111" text-anchor="middle">0</text>
<text x="303.10" y="311.9" font-size="14" fill="#111" text-anchor="middle">5</text>
<text x="36.5" y="40.70" font-size="14" fill="#111" text-anchor="end">5</text>
<text x="36.5" y="88.10" font-size="14" fill="#111" text-anchor="end">0</text>
<text x="36.5" y="135.50" font-size="14" fill="#111" text-anchor="end">−5</text>
<text x="36.5" y="182.20" font-size="14" fill="#111" text-anchor="end">5</text>
<text x="36.5" y="229.60" font-size="14" fill="#111" text-anchor="end">0</text>
<text x="36.5" y="277.00" font-size="14" fill="#111" text-anchor="end">−5</text>
<line x1="65.40" y1="296" x2="65.40" y2="298.8" stroke="#666" stroke-width="1"/>
<line x1="112.80" y1="296" x2="112.80" y2="298.8" stroke="#666" stroke-width="1"/>
<line x1="160.20" y1="296" x2="160.20" y2="298.8" stroke="#666" stroke-width="1"/>
<line x1="207.90" y1="296" x2="207.90" y2="298.8" stroke="#666" stroke-width="1"/>
<line x1="255.30" y1="296" x2="255.30" y2="298.8" stroke="#666" stroke-width="1"/>
<line x1="302.70" y1="296" x2="302.70" y2="298.8" stroke="#666" stroke-width="1"/>
<line x1="39.2" y1="36.00" x2="42" y2="36.00" stroke="#666" stroke-width="1"/>
<line x1="39.2" y1="83.40" x2="42" y2="83.40" stroke="#666" stroke-width="1"/>
<line x1="39.2" y1="130.80" x2="42" y2="130.80" stroke="#666" stroke-width="1"/>
<line x1="39.2" y1="177.50" x2="42" y2="177.50" stroke="#666" stroke-width="1"/>
<line x1="39.2" y1="224.90" x2="42" y2="224.90" stroke="#666" stroke-width="1"/>
<line x1="39.2" y1="272.30" x2="42" y2="272.30" stroke="#666" stroke-width="1"/>
<text x="184" y="334.5" font-size="16" fill="#111" text-anchor="middle">x (mm)</text>
<text transform="translate(13,154.5) rotate(-90)" x="0" y="0" font-size="16" fill="#111" text-anchor="middle">y (mm)</text>
<rect x="329.5" y="14.5" width="11" height="278" fill="url(#cbar)" stroke="#222" stroke-width="1"/>
<line x1="340.5" y1="292.50" x2="343" y2="292.50" stroke="#333" stroke-width="1"/>
<text x="345.5" y="297.80" font-size="14" fill="#111">0</text>
<line x1="340.5" y1="187.25" x2="343" y2="187.25" stroke="#333" stroke-width="1"/>
<text x="345.5" y="192.55" font-size="14" fill="#111">1</text>
<line x1="340.5" y1="82.00" x2="343" y2="82.00" stroke="#333" stroke-width="1"/>
<text x="345.5" y="87.30" font-size="14" fill="#111">2</text>
<text transform="translate(369.7,153.5) rotate(-90)" font-size="16" fill="#111" text-anchor="middle">Fluence (×10<tspan dy="-6" font-size="11">13</tspan><tspan dy="6"> cm</tspan><tspan dy="-6" font-size="11">−2</tspan><tspan dy="6">)</tspan></text>
<text x="2" y="13.5" font-size="16" font-weight="bold" fill="#000">a</text>
<text x="415.5" y="15.5" font-size="16" font-weight="bold" fill="#000">b</text>
<g clip-path="url(#clipb)">
<polyline points="469.07,303.91 750.34,250.61" fill="none" stroke="#a0a0a0" stroke-width="0.9" stroke-dasharray="2.2,1.5"/>
<polyline points="469.07,149.72 750.34,96.41" fill="none" stroke="#f22a2a" stroke-width="1.3" stroke-dasharray="2.4,1.4"/>
<polyline points="469.07,152.95 750.34,99.65" fill="none" stroke="#3a86c8" stroke-width="1.2" stroke-dasharray="4.2,1.3,0.7,1.3"/>
</g>
<line x1="503.30" y1="139.70" x2="503.30" y2="148.30" stroke="#f22a2a" stroke-width="0.80"/><line x1="502.10" y1="139.70" x2="504.50" y2="139.70" stroke="#f22a2a" stroke-width="0.80"/><line x1="502.10" y1="148.30" x2="504.50" y2="148.30" stroke="#f22a2a" stroke-width="0.80"/>
<line x1="511.00" y1="139.70" x2="511.00" y2="148.30" stroke="#f22a2a" stroke-width="0.80"/><line x1="509.80" y1="139.70" x2="512.20" y2="139.70" stroke="#f22a2a" stroke-width="0.80"/><line x1="509.80" y1="148.30" x2="512.20" y2="148.30" stroke="#f22a2a" stroke-width="0.80"/>
<line x1="501.30" y1="144.40" x2="501.30" y2="155.00" stroke="#f22a2a" stroke-width="0.80"/><line x1="500.10" y1="144.40" x2="502.50" y2="144.40" stroke="#f22a2a" stroke-width="0.80"/><line x1="500.10" y1="155.00" x2="502.50" y2="155.00" stroke="#f22a2a" stroke-width="0.80"/>
<line x1="506.40" y1="141.30" x2="506.40" y2="149.30" stroke="#f22a2a" stroke-width="0.80"/><line x1="505.20" y1="141.30" x2="507.60" y2="141.30" stroke="#f22a2a" stroke-width="0.80"/><line x1="505.20" y1="149.30" x2="507.60" y2="149.30" stroke="#f22a2a" stroke-width="0.80"/>
<line x1="507.90" y1="142.90" x2="507.90" y2="150.90" stroke="#f22a2a" stroke-width="0.80"/><line x1="506.70" y1="142.90" x2="509.10" y2="142.90" stroke="#f22a2a" stroke-width="0.80"/><line x1="506.70" y1="150.90" x2="509.10" y2="150.90" stroke="#f22a2a" stroke-width="0.80"/>
<line x1="505.30" y1="144.90" x2="505.30" y2="152.90" stroke="#f22a2a" stroke-width="0.80"/><line x1="504.10" y1="144.90" x2="506.50" y2="144.90" stroke="#f22a2a" stroke-width="0.80"/><line x1="504.10" y1="152.90" x2="506.50" y2="152.90" stroke="#f22a2a" stroke-width="0.80"/>
<line x1="509.40" y1="144.90" x2="509.40" y2="153.00" stroke="#f22a2a" stroke-width="0.80"/><line x1="508.20" y1="144.90" x2="510.60" y2="144.90" stroke="#f22a2a" stroke-width="0.80"/><line x1="508.20" y1="153.00" x2="510.60" y2="153.00" stroke="#f22a2a" stroke-width="0.80"/>
<line x1="506.50" y1="147.50" x2="506.50" y2="154.00" stroke="#f22a2a" stroke-width="0.80"/><line x1="505.30" y1="147.50" x2="507.70" y2="147.50" stroke="#f22a2a" stroke-width="0.80"/><line x1="505.30" y1="154.00" x2="507.70" y2="154.00" stroke="#f22a2a" stroke-width="0.80"/>
<circle cx="503.30" cy="144.30" r="1.95" fill="#fff" stroke="#f22a2a" stroke-width="1.1"/>
<circle cx="511.00" cy="144.30" r="1.95" fill="#fff" stroke="#f22a2a" stroke-width="1.1"/>
<circle cx="501.30" cy="148.40" r="1.95" fill="#fff" stroke="#f22a2a" stroke-width="1.1"/>
<circle cx="506.40" cy="145.30" r="1.95" fill="#fff" stroke="#f22a2a" stroke-width="1.1"/>
<circle cx="507.90" cy="146.90" r="1.95" fill="#fff" stroke="#f22a2a" stroke-width="1.1"/>
<circle cx="505.30" cy="148.90" r="1.95" fill="#fff" stroke="#f22a2a" stroke-width="1.1"/>
<circle cx="509.40" cy="148.90" r="1.95" fill="#fff" stroke="#f22a2a" stroke-width="1.1"/>
<circle cx="506.50" cy="150.50" r="1.95" fill="#fff" stroke="#f22a2a" stroke-width="1.1"/>
<line x1="675.90" y1="104.60" x2="675.90" y2="112.60" stroke="#f22a2a" stroke-width="0.80"/><line x1="674.70" y1="104.60" x2="677.10" y2="104.60" stroke="#f22a2a" stroke-width="0.80"/><line x1="674.70" y1="112.60" x2="677.10" y2="112.60" stroke="#f22a2a" stroke-width="0.80"/>
<line x1="672.20" y1="106.30" x2="672.20" y2="114.80" stroke="#f22a2a" stroke-width="0.80"/><line x1="671.00" y1="106.30" x2="673.40" y2="106.30" stroke="#f22a2a" stroke-width="0.80"/><line x1="671.00" y1="114.80" x2="673.40" y2="114.80" stroke="#f22a2a" stroke-width="0.80"/>
<line x1="679.20" y1="106.30" x2="679.20" y2="114.80" stroke="#f22a2a" stroke-width="0.80"/><line x1="678.00" y1="106.30" x2="680.40" y2="106.30" stroke="#f22a2a" stroke-width="0.80"/><line x1="678.00" y1="114.80" x2="680.40" y2="114.80" stroke="#f22a2a" stroke-width="0.80"/>
<line x1="682.00" y1="105.50" x2="682.00" y2="113.50" stroke="#f22a2a" stroke-width="0.80"/><line x1="680.80" y1="105.50" x2="683.20" y2="105.50" stroke="#f22a2a" stroke-width="0.80"/><line x1="680.80" y1="113.50" x2="683.20" y2="113.50" stroke="#f22a2a" stroke-width="0.80"/>
<line x1="675.00" y1="110.80" x2="675.00" y2="120.10" stroke="#f22a2a" stroke-width="0.80"/><line x1="673.80" y1="110.80" x2="676.20" y2="110.80" stroke="#f22a2a" stroke-width="0.80"/><line x1="673.80" y1="120.10" x2="676.20" y2="120.10" stroke="#f22a2a" stroke-width="0.80"/>
<line x1="678.30" y1="108.70" x2="678.30" y2="117.20" stroke="#f22a2a" stroke-width="0.80"/><line x1="677.10" y1="108.70" x2="679.50" y2="108.70" stroke="#f22a2a" stroke-width="0.80"/><line x1="677.10" y1="117.20" x2="679.50" y2="117.20" stroke="#f22a2a" stroke-width="0.80"/>
<line x1="677.10" y1="103.30" x2="677.10" y2="109.80" stroke="#f22a2a" stroke-width="0.80"/><line x1="675.90" y1="103.30" x2="678.30" y2="103.30" stroke="#f22a2a" stroke-width="0.80"/><line x1="675.90" y1="109.80" x2="678.30" y2="109.80" stroke="#f22a2a" stroke-width="0.80"/>
<line x1="673.50" y1="108.50" x2="673.50" y2="116.50" stroke="#f22a2a" stroke-width="0.80"/><line x1="672.30" y1="108.50" x2="674.70" y2="108.50" stroke="#f22a2a" stroke-width="0.80"/><line x1="672.30" y1="116.50" x2="674.70" y2="116.50" stroke="#f22a2a" stroke-width="0.80"/>
<line x1="680.50" y1="109.50" x2="680.50" y2="117.00" stroke="#f22a2a" stroke-width="0.80"/><line x1="679.30" y1="109.50" x2="681.70" y2="109.50" stroke="#f22a2a" stroke-width="0.80"/><line x1="679.30" y1="117.00" x2="681.70" y2="117.00" stroke="#f22a2a" stroke-width="0.80"/>
<line x1="677.00" y1="106.50" x2="677.00" y2="114.50" stroke="#f22a2a" stroke-width="0.80"/><line x1="675.80" y1="106.50" x2="678.20" y2="106.50" stroke="#f22a2a" stroke-width="0.80"/><line x1="675.80" y1="114.50" x2="678.20" y2="114.50" stroke="#f22a2a" stroke-width="0.80"/>
<line x1="674.00" y1="104.00" x2="674.00" y2="111.50" stroke="#f22a2a" stroke-width="0.80"/><line x1="672.80" y1="104.00" x2="675.20" y2="104.00" stroke="#f22a2a" stroke-width="0.80"/><line x1="672.80" y1="111.50" x2="675.20" y2="111.50" stroke="#f22a2a" stroke-width="0.80"/>
<line x1="683.50" y1="108.50" x2="683.50" y2="115.00" stroke="#f22a2a" stroke-width="0.80"/><line x1="682.30" y1="108.50" x2="684.70" y2="108.50" stroke="#f22a2a" stroke-width="0.80"/><line x1="682.30" y1="115.00" x2="684.70" y2="115.00" stroke="#f22a2a" stroke-width="0.80"/>
<circle cx="675.90" cy="108.60" r="1.95" fill="#fff" stroke="#f22a2a" stroke-width="1.1"/>
<circle cx="672.20" cy="110.30" r="1.95" fill="#fff" stroke="#f22a2a" stroke-width="1.1"/>
<circle cx="679.20" cy="110.30" r="1.95" fill="#fff" stroke="#f22a2a" stroke-width="1.1"/>
<circle cx="682.00" cy="109.50" r="1.95" fill="#fff" stroke="#f22a2a" stroke-width="1.1"/>
<circle cx="675.00" cy="114.80" r="1.95" fill="#fff" stroke="#f22a2a" stroke-width="1.1"/>
<circle cx="678.30" cy="112.70" r="1.95" fill="#fff" stroke="#f22a2a" stroke-width="1.1"/>
<circle cx="677.10" cy="105.80" r="1.95" fill="#fff" stroke="#f22a2a" stroke-width="1.1"/>
<circle cx="673.50" cy="112.50" r="1.95" fill="#fff" stroke="#f22a2a" stroke-width="1.1"/>
<circle cx="680.50" cy="113.00" r="1.95" fill="#fff" stroke="#f22a2a" stroke-width="1.1"/>
<circle cx="677.00" cy="110.50" r="1.95" fill="#fff" stroke="#f22a2a" stroke-width="1.1"/>
<circle cx="674.00" cy="107.50" r="1.95" fill="#fff" stroke="#f22a2a" stroke-width="1.1"/>
<circle cx="683.50" cy="111.50" r="1.95" fill="#fff" stroke="#f22a2a" stroke-width="1.1"/>
<line x1="721.60" y1="96.80" x2="721.60" y2="103.80" stroke="#f22a2a" stroke-width="0.80"/><line x1="720.40" y1="96.80" x2="722.80" y2="96.80" stroke="#f22a2a" stroke-width="0.80"/><line x1="720.40" y1="103.80" x2="722.80" y2="103.80" stroke="#f22a2a" stroke-width="0.80"/>
<line x1="724.80" y1="99.60" x2="724.80" y2="107.10" stroke="#f22a2a" stroke-width="0.80"/><line x1="723.60" y1="99.60" x2="726.00" y2="99.60" stroke="#f22a2a" stroke-width="0.80"/><line x1="723.60" y1="107.10" x2="726.00" y2="107.10" stroke="#f22a2a" stroke-width="0.80"/>
<line x1="722.40" y1="100.00" x2="722.40" y2="107.50" stroke="#f22a2a" stroke-width="0.80"/><line x1="721.20" y1="100.00" x2="723.60" y2="100.00" stroke="#f22a2a" stroke-width="0.80"/><line x1="721.20" y1="107.50" x2="723.60" y2="107.50" stroke="#f22a2a" stroke-width="0.80"/>
<line x1="722.00" y1="97.00" x2="722.00" y2="102.00" stroke="#f22a2a" stroke-width="0.80"/><line x1="720.80" y1="97.00" x2="723.20" y2="97.00" stroke="#f22a2a" stroke-width="0.80"/><line x1="720.80" y1="102.00" x2="723.20" y2="102.00" stroke="#f22a2a" stroke-width="0.80"/>
<line x1="723.50" y1="98.00" x2="723.50" y2="105.00" stroke="#f22a2a" stroke-width="0.80"/><line x1="722.30" y1="98.00" x2="724.70" y2="98.00" stroke="#f22a2a" stroke-width="0.80"/><line x1="722.30" y1="105.00" x2="724.70" y2="105.00" stroke="#f22a2a" stroke-width="0.80"/>
<circle cx="721.60" cy="99.80" r="1.95" fill="#fff" stroke="#f22a2a" stroke-width="1.1"/>
<circle cx="724.80" cy="103.10" r="1.95" fill="#fff" stroke="#f22a2a" stroke-width="1.1"/>
<circle cx="722.40" cy="103.50" r="1.95" fill="#fff" stroke="#f22a2a" stroke-width="1.1"/>
<circle cx="722.00" cy="98.50" r="1.95" fill="#fff" stroke="#f22a2a" stroke-width="1.1"/>
<circle cx="723.50" cy="101.00" r="1.95" fill="#fff" stroke="#f22a2a" stroke-width="1.1"/>
<line x1="716.00" y1="102.30" x2="716.00" y2="113.30" stroke="#f22a2a" stroke-width="0.80"/><line x1="714.80" y1="102.30" x2="717.20" y2="102.30" stroke="#f22a2a" stroke-width="0.80"/><line x1="714.80" y1="113.30" x2="717.20" y2="113.30" stroke="#f22a2a" stroke-width="0.80"/>
<circle cx="716.00" cy="108.00" r="1.95" fill="#fff" stroke="#f22a2a" stroke-width="1.1"/>
<line x1="669.00" y1="259.80" x2="669.00" y2="271.80" stroke="#333" stroke-width="0.70"/><line x1="667.80" y1="259.80" x2="670.20" y2="259.80" stroke="#333" stroke-width="0.70"/><line x1="667.80" y1="271.80" x2="670.20" y2="271.80" stroke="#333" stroke-width="0.70"/>
<line x1="676.00" y1="256.70" x2="676.00" y2="268.70" stroke="#333" stroke-width="0.70"/><line x1="674.80" y1="256.70" x2="677.20" y2="256.70" stroke="#333" stroke-width="0.70"/><line x1="674.80" y1="268.70" x2="677.20" y2="268.70" stroke="#333" stroke-width="0.70"/>
<line x1="679.50" y1="257.30" x2="679.50" y2="268.30" stroke="#333" stroke-width="0.70"/><line x1="678.30" y1="257.30" x2="680.70" y2="257.30" stroke="#333" stroke-width="0.70"/><line x1="678.30" y1="268.30" x2="680.70" y2="268.30" stroke="#333" stroke-width="0.70"/>
<line x1="672.50" y1="258.50" x2="672.50" y2="270.50" stroke="#333" stroke-width="0.70"/><line x1="671.30" y1="258.50" x2="673.70" y2="258.50" stroke="#333" stroke-width="0.70"/><line x1="671.30" y1="270.50" x2="673.70" y2="270.50" stroke="#333" stroke-width="0.70"/>
<line x1="679.50" y1="261.50" x2="679.50" y2="273.50" stroke="#333" stroke-width="0.70"/><line x1="678.30" y1="261.50" x2="680.70" y2="261.50" stroke="#333" stroke-width="0.70"/><line x1="678.30" y1="273.50" x2="680.70" y2="273.50" stroke="#333" stroke-width="0.70"/>
<line x1="673.40" y1="264.20" x2="673.40" y2="276.20" stroke="#333" stroke-width="0.70"/><line x1="672.20" y1="264.20" x2="674.60" y2="264.20" stroke="#333" stroke-width="0.70"/><line x1="672.20" y1="276.20" x2="674.60" y2="276.20" stroke="#333" stroke-width="0.70"/>
<line x1="676.50" y1="262.40" x2="676.50" y2="274.40" stroke="#333" stroke-width="0.70"/><line x1="675.30" y1="262.40" x2="677.70" y2="262.40" stroke="#333" stroke-width="0.70"/><line x1="675.30" y1="274.40" x2="677.70" y2="274.40" stroke="#333" stroke-width="0.70"/>
<line x1="675.50" y1="255.50" x2="675.50" y2="264.50" stroke="#333" stroke-width="0.70"/><line x1="674.30" y1="255.50" x2="676.70" y2="255.50" stroke="#333" stroke-width="0.70"/><line x1="674.30" y1="264.50" x2="676.70" y2="264.50" stroke="#333" stroke-width="0.70"/>
<line x1="677.50" y1="259.00" x2="677.50" y2="271.00" stroke="#333" stroke-width="0.70"/><line x1="676.30" y1="259.00" x2="678.70" y2="259.00" stroke="#333" stroke-width="0.70"/><line x1="676.30" y1="271.00" x2="678.70" y2="271.00" stroke="#333" stroke-width="0.70"/>
<line x1="671.00" y1="262.50" x2="671.00" y2="273.50" stroke="#333" stroke-width="0.70"/><line x1="669.80" y1="262.50" x2="672.20" y2="262.50" stroke="#333" stroke-width="0.70"/><line x1="669.80" y1="273.50" x2="672.20" y2="273.50" stroke="#333" stroke-width="0.70"/>
<line x1="674.00" y1="257.00" x2="674.00" y2="268.00" stroke="#333" stroke-width="0.70"/><line x1="672.80" y1="257.00" x2="675.20" y2="257.00" stroke="#333" stroke-width="0.70"/><line x1="672.80" y1="268.00" x2="675.20" y2="268.00" stroke="#333" stroke-width="0.70"/>
<path d="M669.00,262.40 l3.40,3.40 l-3.40,3.40 l-3.40,-3.40 z" fill="#fff" stroke="#111" stroke-width="1.0"/>
<path d="M676.00,259.30 l3.40,3.40 l-3.40,3.40 l-3.40,-3.40 z" fill="#fff" stroke="#111" stroke-width="1.0"/>
<path d="M679.50,258.90 l3.40,3.40 l-3.40,3.40 l-3.40,-3.40 z" fill="#fff" stroke="#111" stroke-width="1.0"/>
<path d="M672.50,261.10 l3.40,3.40 l-3.40,3.40 l-3.40,-3.40 z" fill="#fff" stroke="#111" stroke-width="1.0"/>
<path d="M679.50,264.10 l3.40,3.40 l-3.40,3.40 l-3.40,-3.40 z" fill="#fff" stroke="#111" stroke-width="1.0"/>
<path d="M673.40,266.80 l3.40,3.40 l-3.40,3.40 l-3.40,-3.40 z" fill="#fff" stroke="#111" stroke-width="1.0"/>
<path d="M676.50,265.00 l3.40,3.40 l-3.40,3.40 l-3.40,-3.40 z" fill="#fff" stroke="#111" stroke-width="1.0"/>
<path d="M675.50,256.10 l3.40,3.40 l-3.40,3.40 l-3.40,-3.40 z" fill="#fff" stroke="#111" stroke-width="1.0"/>
<path d="M677.50,261.60 l3.40,3.40 l-3.40,3.40 l-3.40,-3.40 z" fill="#fff" stroke="#111" stroke-width="1.0"/>
<path d="M671.00,264.10 l3.40,3.40 l-3.40,3.40 l-3.40,-3.40 z" fill="#fff" stroke="#111" stroke-width="1.0"/>
<path d="M674.00,258.60 l3.40,3.40 l-3.40,3.40 l-3.40,-3.40 z" fill="#fff" stroke="#111" stroke-width="1.0"/>
<line x1="705.30" y1="254.20" x2="705.30" y2="270.70" stroke="#333" stroke-width="0.70"/><line x1="704.10" y1="254.20" x2="706.50" y2="254.20" stroke="#333" stroke-width="0.70"/><line x1="704.10" y1="270.70" x2="706.50" y2="270.70" stroke="#333" stroke-width="0.70"/>
<path d="M705.30,258.30 l3.40,3.40 l-3.40,3.40 l-3.40,-3.40 z" fill="#fff" stroke="#111" stroke-width="1.0"/>
<text x="451.5" y="300.70" font-size="14" fill="#111" text-anchor="end">10</text>
<text x="452.2" y="296.20" font-size="10" fill="#111">11</text>
<text x="451.5" y="219.10" font-size="14" fill="#111" text-anchor="end">10</text>
<text x="452.2" y="214.60" font-size="10" fill="#111">12</text>
<text x="451.5" y="137.50" font-size="14" fill="#111" text-anchor="end">10</text>
<text x="452.2" y="133.00" font-size="10" fill="#111">13</text>
<text x="451.5" y="55.90" font-size="14" fill="#111" text-anchor="end">10</text>
<text x="452.2" y="51.40" font-size="10" fill="#111">14</text>
<text x="510.80" y="311.9" font-size="14" fill="#111" text-anchor="middle">1</text>
<text x="640.42" y="311.9" font-size="14" fill="#111" text-anchor="middle">2</text>
<text x="716.25" y="311.9" font-size="14" fill="#111" text-anchor="middle">3</text>
<line x1="469.5" y1="12" x2="469.5" y2="296" stroke="#444" stroke-width="1"/>
<line x1="749.5" y1="12" x2="749.5" y2="296" stroke="#333" stroke-width="1"/>
<line x1="469" y1="12" x2="750" y2="12" stroke="#777" stroke-width="1.5"/>
<line x1="467" y1="296" x2="750" y2="296" stroke="#777" stroke-width="1.5"/>
<line x1="466.5" y1="296.00" x2="469.5" y2="296.00" stroke="#555" stroke-width="1"/>
<line x1="467.8" y1="271.44" x2="469.5" y2="271.44" stroke="#777" stroke-width="0.8"/>
<line x1="467.8" y1="257.07" x2="469.5" y2="257.07" stroke="#777" stroke-width="0.8"/>
<line x1="467.8" y1="246.87" x2="469.5" y2="246.87" stroke="#777" stroke-width="0.8"/>
<line x1="467.8" y1="238.96" x2="469.5" y2="238.96" stroke="#777" stroke-width="0.8"/>
<line x1="467.8" y1="232.50" x2="469.5" y2="232.50" stroke="#777" stroke-width="0.8"/>
<line x1="467.8" y1="227.04" x2="469.5" y2="227.04" stroke="#777" stroke-width="0.8"/>
<line x1="467.8" y1="222.31" x2="469.5" y2="222.31" stroke="#777" stroke-width="0.8"/>
<line x1="467.8" y1="218.13" x2="469.5" y2="218.13" stroke="#777" stroke-width="0.8"/>
<line x1="466.5" y1="214.40" x2="469.5" y2="214.40" stroke="#555" stroke-width="1"/>
<line x1="467.8" y1="189.84" x2="469.5" y2="189.84" stroke="#777" stroke-width="0.8"/>
<line x1="467.8" y1="175.47" x2="469.5" y2="175.47" stroke="#777" stroke-width="0.8"/>
<line x1="467.8" y1="165.27" x2="469.5" y2="165.27" stroke="#777" stroke-width="0.8"/>
<line x1="467.8" y1="157.36" x2="469.5" y2="157.36" stroke="#777" stroke-width="0.8"/>
<line x1="467.8" y1="150.90" x2="469.5" y2="150.90" stroke="#777" stroke-width="0.8"/>
<line x1="467.8" y1="145.44" x2="469.5" y2="145.44" stroke="#777" stroke-width="0.8"/>
<line x1="467.8" y1="140.71" x2="469.5" y2="140.71" stroke="#777" stroke-width="0.8"/>
<line x1="467.8" y1="136.53" x2="469.5" y2="136.53" stroke="#777" stroke-width="0.8"/>
<line x1="466.5" y1="132.80" x2="469.5" y2="132.80" stroke="#555" stroke-width="1"/>
<line x1="467.8" y1="108.24" x2="469.5" y2="108.24" stroke="#777" stroke-width="0.8"/>
<line x1="467.8" y1="93.87" x2="469.5" y2="93.87" stroke="#777" stroke-width="0.8"/>
<line x1="467.8" y1="83.67" x2="469.5" y2="83.67" stroke="#777" stroke-width="0.8"/>
<line x1="467.8" y1="75.76" x2="469.5" y2="75.76" stroke="#777" stroke-width="0.8"/>
<line x1="467.8" y1="69.30" x2="469.5" y2="69.30" stroke="#777" stroke-width="0.8"/>
<line x1="467.8" y1="63.84" x2="469.5" y2="63.84" stroke="#777" stroke-width="0.8"/>
<line x1="467.8" y1="59.11" x2="469.5" y2="59.11" stroke="#777" stroke-width="0.8"/>
<line x1="467.8" y1="54.93" x2="469.5" y2="54.93" stroke="#777" stroke-width="0.8"/>
<line x1="466.5" y1="51.20" x2="469.5" y2="51.20" stroke="#555" stroke-width="1"/>
<line x1="467.8" y1="26.64" x2="469.5" y2="26.64" stroke="#777" stroke-width="0.8"/>
<line x1="467.8" y1="12.27" x2="469.5" y2="12.27" stroke="#777" stroke-width="0.8"/>
<line x1="510.80" y1="296" x2="510.80" y2="299" stroke="#555" stroke-width="1"/>
<line x1="640.42" y1="296" x2="640.42" y2="299" stroke="#555" stroke-width="1"/>
<line x1="716.25" y1="296" x2="716.25" y2="299" stroke="#555" stroke-width="1"/>
<line x1="544.90" y1="296" x2="544.90" y2="298" stroke="#777" stroke-width="0.8"/>
<line x1="573.72" y1="296" x2="573.72" y2="298" stroke="#777" stroke-width="0.8"/>
<line x1="598.69" y1="296" x2="598.69" y2="298" stroke="#777" stroke-width="0.8"/>
<line x1="620.72" y1="296" x2="620.72" y2="298" stroke="#777" stroke-width="0.8"/>
<line x1="658.25" y1="296" x2="658.25" y2="298" stroke="#777" stroke-width="0.8"/>
<line x1="674.52" y1="296" x2="674.52" y2="298" stroke="#777" stroke-width="0.8"/>
<line x1="689.49" y1="296" x2="689.49" y2="298" stroke="#777" stroke-width="0.8"/>
<line x1="703.35" y1="296" x2="703.35" y2="298" stroke="#777" stroke-width="0.8"/>
<line x1="728.32" y1="296" x2="728.32" y2="298" stroke="#777" stroke-width="0.8"/>
<line x1="739.65" y1="296" x2="739.65" y2="298" stroke="#777" stroke-width="0.8"/>
<text x="609.6" y="332.4" font-size="16" fill="#111" text-anchor="middle">Incident protons (×10<tspan dy="-6.5" font-size="11" dx="0.5">11</tspan><tspan dy="6.5" dx="1.6">)</tspan></text>
<text transform="translate(429.5,153) rotate(-90)" font-size="16" fill="#111" text-anchor="middle">Particle number</text>
<path d="M492.3,24.80 l3.1,3.1 l-3.1,3.1 l-3.1,-3.1 z" fill="#fff" stroke="#000" stroke-width="1.25"/>
<line x1="480.2" y1="45.80" x2="502.4" y2="45.80" stroke="#a0a0a0" stroke-width="1.2" stroke-dasharray="4.5,1.4"/>
<circle cx="491.9" cy="63.90" r="2.15" fill="#fff" stroke="#f52525" stroke-width="1.2"/>
<line x1="480.2" y1="82.00" x2="502.4" y2="82.00" stroke="#f22a2a" stroke-width="1.6" stroke-dasharray="4.5,1.4"/>
<line x1="480.2" y1="100.30" x2="502.4" y2="100.30" stroke="#3a86c8" stroke-width="1.5" stroke-dasharray="7.2,1.8,0.9,1.8"/>
<text x="514.3" y="32.10" font-size="12.35" fill="#111">No target (Experiment)</text>
<text x="514.3" y="50.00" font-size="12.35" fill="#111">No target (FLUKA)</text>
<text x="514.3" y="68.10" font-size="12.35" fill="#111">Target in (Experiment)</text>
<text x="514.3" y="86.20" font-size="12.35" fill="#111">Target in (FLUKA)</text>
<text x="514.3" y="104.50" font-size="12.35" fill="#111">Target in (FLUKA, e<tspan dy="-4" font-size="10">±</tspan><tspan dy="4"> only)</tspan></text></svg>
</body></html>
